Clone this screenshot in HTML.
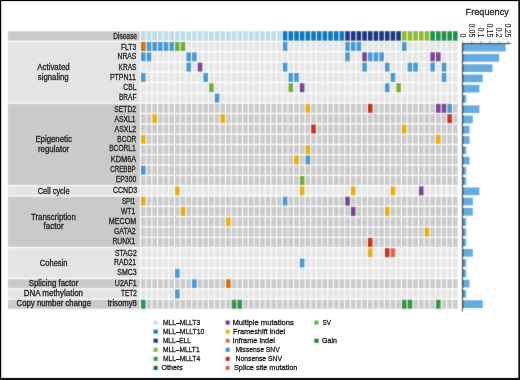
<!DOCTYPE html><html><head><meta charset="utf-8"><title>Oncoprint</title><style>html,body{margin:0;padding:0;background:#fff;}body{width:520px;height:380px;overflow:hidden;font-family:"Liberation Sans",sans-serif;}svg{display:block;will-change:transform;}</style></head><body><svg width="520" height="380" viewBox="0 0 520 380"><defs><filter id="soft" filterUnits="userSpaceOnUse" x="0" y="0" width="520" height="380" color-interpolation-filters="sRGB"><feConvolveMatrix order="3" kernelMatrix="1 2 1 2 16 2 1 2 1" divisor="28" edgeMode="duplicate"/></filter></defs><g filter="url(#soft)"><rect width="520" height="380" fill="#fff"/><rect x="8" y="31.2" width="131.8" height="9.5" fill="#cacaca"/><rect x="141" y="31.2" width="4.6" height="9.5" fill="#bedde9"/><rect x="146.67" y="31.2" width="4.6" height="9.5" fill="#bedde9"/><rect x="152.35" y="31.2" width="4.6" height="9.5" fill="#bedde9"/><rect x="158.02" y="31.2" width="4.6" height="9.5" fill="#bedde9"/><rect x="163.69" y="31.2" width="4.6" height="9.5" fill="#bedde9"/><rect x="169.37" y="31.2" width="4.6" height="9.5" fill="#bedde9"/><rect x="175.04" y="31.2" width="4.6" height="9.5" fill="#bedde9"/><rect x="180.71" y="31.2" width="4.6" height="9.5" fill="#bedde9"/><rect x="186.38" y="31.2" width="4.6" height="9.5" fill="#bedde9"/><rect x="192.06" y="31.2" width="4.6" height="9.5" fill="#bedde9"/><rect x="197.73" y="31.2" width="4.6" height="9.5" fill="#bedde9"/><rect x="203.4" y="31.2" width="4.6" height="9.5" fill="#bedde9"/><rect x="209.08" y="31.2" width="4.6" height="9.5" fill="#bedde9"/><rect x="214.75" y="31.2" width="4.6" height="9.5" fill="#bedde9"/><rect x="220.42" y="31.2" width="4.6" height="9.5" fill="#bedde9"/><rect x="226.09" y="31.2" width="4.6" height="9.5" fill="#bedde9"/><rect x="231.77" y="31.2" width="4.6" height="9.5" fill="#bedde9"/><rect x="237.44" y="31.2" width="4.6" height="9.5" fill="#bedde9"/><rect x="243.11" y="31.2" width="4.6" height="9.5" fill="#bedde9"/><rect x="248.79" y="31.2" width="4.6" height="9.5" fill="#bedde9"/><rect x="254.46" y="31.2" width="4.6" height="9.5" fill="#bedde9"/><rect x="260.13" y="31.2" width="4.6" height="9.5" fill="#bedde9"/><rect x="265.81" y="31.2" width="4.6" height="9.5" fill="#bedde9"/><rect x="271.48" y="31.2" width="4.6" height="9.5" fill="#bedde9"/><rect x="277.15" y="31.2" width="4.6" height="9.5" fill="#bedde9"/><rect x="282.82" y="31.2" width="4.6" height="9.5" fill="#0b78bc"/><rect x="288.5" y="31.2" width="4.6" height="9.5" fill="#0b78bc"/><rect x="294.17" y="31.2" width="4.6" height="9.5" fill="#0b78bc"/><rect x="299.84" y="31.2" width="4.6" height="9.5" fill="#0b78bc"/><rect x="305.52" y="31.2" width="4.6" height="9.5" fill="#0b78bc"/><rect x="311.19" y="31.2" width="4.6" height="9.5" fill="#0b78bc"/><rect x="316.86" y="31.2" width="4.6" height="9.5" fill="#0b78bc"/><rect x="322.54" y="31.2" width="4.6" height="9.5" fill="#0b78bc"/><rect x="328.21" y="31.2" width="4.6" height="9.5" fill="#0b78bc"/><rect x="333.88" y="31.2" width="4.6" height="9.5" fill="#0b78bc"/><rect x="339.56" y="31.2" width="4.6" height="9.5" fill="#0b78bc"/><rect x="345.23" y="31.2" width="4.6" height="9.5" fill="#1a3682"/><rect x="350.9" y="31.2" width="4.6" height="9.5" fill="#1a3682"/><rect x="356.57" y="31.2" width="4.6" height="9.5" fill="#1a3682"/><rect x="362.25" y="31.2" width="4.6" height="9.5" fill="#1a3682"/><rect x="367.92" y="31.2" width="4.6" height="9.5" fill="#1a3682"/><rect x="373.59" y="31.2" width="4.6" height="9.5" fill="#1a3682"/><rect x="379.27" y="31.2" width="4.6" height="9.5" fill="#1a3682"/><rect x="384.94" y="31.2" width="4.6" height="9.5" fill="#1a3682"/><rect x="390.61" y="31.2" width="4.6" height="9.5" fill="#1a3682"/><rect x="396.28" y="31.2" width="4.6" height="9.5" fill="#1a3682"/><rect x="401.96" y="31.2" width="4.6" height="9.5" fill="#8db833"/><rect x="407.63" y="31.2" width="4.6" height="9.5" fill="#8db833"/><rect x="413.3" y="31.2" width="4.6" height="9.5" fill="#8db833"/><rect x="418.98" y="31.2" width="4.6" height="9.5" fill="#8db833"/><rect x="424.65" y="31.2" width="4.6" height="9.5" fill="#8db833"/><rect x="430.32" y="31.2" width="4.6" height="9.5" fill="#1e8f4c"/><rect x="436" y="31.2" width="4.6" height="9.5" fill="#1e8f4c"/><rect x="441.67" y="31.2" width="4.6" height="9.5" fill="#1e8f4c"/><rect x="447.34" y="31.2" width="4.6" height="9.5" fill="#1e8f4c"/><rect x="453.01" y="31.2" width="4.6" height="9.5" fill="#1e8f4c"/><rect x="8" y="42" width="131.8" height="60.55" fill="#e4e4e4"/><rect x="8" y="103.86" width="131.8" height="81.17" fill="#cacaca"/><rect x="8" y="186.34" width="131.8" height="9" fill="#e4e4e4"/><rect x="8" y="196.65" width="131.8" height="50.24" fill="#cacaca"/><rect x="8" y="248.2" width="131.8" height="29.62" fill="#e4e4e4"/><rect x="8" y="279.13" width="131.8" height="9" fill="#cacaca"/><rect x="8" y="289.44" width="131.8" height="9" fill="#e4e4e4"/><rect x="8" y="299.75" width="131.8" height="9" fill="#cacaca"/><rect x="141" y="42" width="4.6" height="9" fill="#d2710f"/><rect x="146.67" y="42" width="4.6" height="9" fill="#4899d3"/><rect x="152.35" y="42" width="4.6" height="9" fill="#4899d3"/><rect x="158.02" y="42" width="4.6" height="9" fill="#4899d3"/><rect x="163.69" y="42" width="4.6" height="9" fill="#4899d3"/><rect x="169.37" y="42" width="4.6" height="9" fill="#4899d3"/><rect x="175.04" y="42" width="4.6" height="9" fill="#72ac38"/><rect x="180.71" y="42" width="4.6" height="9" fill="#72ac38"/><rect x="186.38" y="42" width="4.6" height="9" fill="#e6e6e6"/><rect x="192.06" y="42" width="4.6" height="9" fill="#e6e6e6"/><rect x="197.73" y="42" width="4.6" height="9" fill="#e6e6e6"/><rect x="203.4" y="42" width="4.6" height="9" fill="#e6e6e6"/><rect x="209.08" y="42" width="4.6" height="9" fill="#e6e6e6"/><rect x="214.75" y="42" width="4.6" height="9" fill="#e6e6e6"/><rect x="220.42" y="42" width="4.6" height="9" fill="#e6e6e6"/><rect x="226.09" y="42" width="4.6" height="9" fill="#e6e6e6"/><rect x="231.77" y="42" width="4.6" height="9" fill="#e6e6e6"/><rect x="237.44" y="42" width="4.6" height="9" fill="#e6e6e6"/><rect x="243.11" y="42" width="4.6" height="9" fill="#e6e6e6"/><rect x="248.79" y="42" width="4.6" height="9" fill="#e6e6e6"/><rect x="254.46" y="42" width="4.6" height="9" fill="#e6e6e6"/><rect x="260.13" y="42" width="4.6" height="9" fill="#e6e6e6"/><rect x="265.81" y="42" width="4.6" height="9" fill="#e6e6e6"/><rect x="271.48" y="42" width="4.6" height="9" fill="#e6e6e6"/><rect x="277.15" y="42" width="4.6" height="9" fill="#e6e6e6"/><rect x="282.82" y="42" width="4.6" height="9" fill="#4899d3"/><rect x="288.5" y="42" width="4.6" height="9" fill="#e6e6e6"/><rect x="294.17" y="42" width="4.6" height="9" fill="#e6e6e6"/><rect x="299.84" y="42" width="4.6" height="9" fill="#e6e6e6"/><rect x="305.52" y="42" width="4.6" height="9" fill="#e6e6e6"/><rect x="311.19" y="42" width="4.6" height="9" fill="#e6e6e6"/><rect x="316.86" y="42" width="4.6" height="9" fill="#e6e6e6"/><rect x="322.54" y="42" width="4.6" height="9" fill="#e6e6e6"/><rect x="328.21" y="42" width="4.6" height="9" fill="#e6e6e6"/><rect x="333.88" y="42" width="4.6" height="9" fill="#e6e6e6"/><rect x="339.56" y="42" width="4.6" height="9" fill="#e6e6e6"/><rect x="345.23" y="42" width="4.6" height="9" fill="#4899d3"/><rect x="350.9" y="42" width="4.6" height="9" fill="#4899d3"/><rect x="356.57" y="42" width="4.6" height="9" fill="#4899d3"/><rect x="362.25" y="42" width="4.6" height="9" fill="#e6e6e6"/><rect x="367.92" y="42" width="4.6" height="9" fill="#e6e6e6"/><rect x="373.59" y="42" width="4.6" height="9" fill="#e6e6e6"/><rect x="379.27" y="42" width="4.6" height="9" fill="#e6e6e6"/><rect x="384.94" y="42" width="4.6" height="9" fill="#e6e6e6"/><rect x="390.61" y="42" width="4.6" height="9" fill="#e6e6e6"/><rect x="396.28" y="42" width="4.6" height="9" fill="#e6e6e6"/><rect x="401.96" y="42" width="4.6" height="9" fill="#4899d3"/><rect x="407.63" y="42" width="4.6" height="9" fill="#e6e6e6"/><rect x="413.3" y="42" width="4.6" height="9" fill="#e6e6e6"/><rect x="418.98" y="42" width="4.6" height="9" fill="#e6e6e6"/><rect x="424.65" y="42" width="4.6" height="9" fill="#e6e6e6"/><rect x="430.32" y="42" width="4.6" height="9" fill="#e6e6e6"/><rect x="436" y="42" width="4.6" height="9" fill="#e6e6e6"/><rect x="441.67" y="42" width="4.6" height="9" fill="#e6e6e6"/><rect x="447.34" y="42" width="4.6" height="9" fill="#e6e6e6"/><rect x="453.01" y="42" width="4.6" height="9" fill="#e6e6e6"/><rect x="141" y="52.31" width="4.6" height="9" fill="#4899d3"/><rect x="146.67" y="52.31" width="4.6" height="9" fill="#4899d3"/><rect x="152.35" y="52.31" width="4.6" height="9" fill="#e6e6e6"/><rect x="158.02" y="52.31" width="4.6" height="9" fill="#e6e6e6"/><rect x="163.69" y="52.31" width="4.6" height="9" fill="#e6e6e6"/><rect x="169.37" y="52.31" width="4.6" height="9" fill="#e6e6e6"/><rect x="175.04" y="52.31" width="4.6" height="9" fill="#e6e6e6"/><rect x="180.71" y="52.31" width="4.6" height="9" fill="#e6e6e6"/><rect x="186.38" y="52.31" width="4.6" height="9" fill="#4899d3"/><rect x="192.06" y="52.31" width="4.6" height="9" fill="#4899d3"/><rect x="197.73" y="52.31" width="4.6" height="9" fill="#e6e6e6"/><rect x="203.4" y="52.31" width="4.6" height="9" fill="#e6e6e6"/><rect x="209.08" y="52.31" width="4.6" height="9" fill="#e6e6e6"/><rect x="214.75" y="52.31" width="4.6" height="9" fill="#e6e6e6"/><rect x="220.42" y="52.31" width="4.6" height="9" fill="#e6e6e6"/><rect x="226.09" y="52.31" width="4.6" height="9" fill="#e6e6e6"/><rect x="231.77" y="52.31" width="4.6" height="9" fill="#e6e6e6"/><rect x="237.44" y="52.31" width="4.6" height="9" fill="#e6e6e6"/><rect x="243.11" y="52.31" width="4.6" height="9" fill="#e6e6e6"/><rect x="248.79" y="52.31" width="4.6" height="9" fill="#e6e6e6"/><rect x="254.46" y="52.31" width="4.6" height="9" fill="#e6e6e6"/><rect x="260.13" y="52.31" width="4.6" height="9" fill="#e6e6e6"/><rect x="265.81" y="52.31" width="4.6" height="9" fill="#e6e6e6"/><rect x="271.48" y="52.31" width="4.6" height="9" fill="#e6e6e6"/><rect x="277.15" y="52.31" width="4.6" height="9" fill="#e6e6e6"/><rect x="282.82" y="52.31" width="4.6" height="9" fill="#e6e6e6"/><rect x="288.5" y="52.31" width="4.6" height="9" fill="#e6e6e6"/><rect x="294.17" y="52.31" width="4.6" height="9" fill="#e6e6e6"/><rect x="299.84" y="52.31" width="4.6" height="9" fill="#e6e6e6"/><rect x="305.52" y="52.31" width="4.6" height="9" fill="#e6e6e6"/><rect x="311.19" y="52.31" width="4.6" height="9" fill="#e6e6e6"/><rect x="316.86" y="52.31" width="4.6" height="9" fill="#e6e6e6"/><rect x="322.54" y="52.31" width="4.6" height="9" fill="#e6e6e6"/><rect x="328.21" y="52.31" width="4.6" height="9" fill="#e6e6e6"/><rect x="333.88" y="52.31" width="4.6" height="9" fill="#e6e6e6"/><rect x="339.56" y="52.31" width="4.6" height="9" fill="#e6e6e6"/><rect x="345.23" y="52.31" width="4.6" height="9" fill="#4899d3"/><rect x="350.9" y="52.31" width="4.6" height="9" fill="#e6e6e6"/><rect x="356.57" y="52.31" width="4.6" height="9" fill="#e6e6e6"/><rect x="362.25" y="52.31" width="4.6" height="9" fill="#7a4491"/><rect x="367.92" y="52.31" width="4.6" height="9" fill="#4899d3"/><rect x="373.59" y="52.31" width="4.6" height="9" fill="#4899d3"/><rect x="379.27" y="52.31" width="4.6" height="9" fill="#4899d3"/><rect x="384.94" y="52.31" width="4.6" height="9" fill="#e6e6e6"/><rect x="390.61" y="52.31" width="4.6" height="9" fill="#e6e6e6"/><rect x="396.28" y="52.31" width="4.6" height="9" fill="#e6e6e6"/><rect x="401.96" y="52.31" width="4.6" height="9" fill="#e6e6e6"/><rect x="407.63" y="52.31" width="4.6" height="9" fill="#e6e6e6"/><rect x="413.3" y="52.31" width="4.6" height="9" fill="#e6e6e6"/><rect x="418.98" y="52.31" width="4.6" height="9" fill="#e6e6e6"/><rect x="424.65" y="52.31" width="4.6" height="9" fill="#e6e6e6"/><rect x="430.32" y="52.31" width="4.6" height="9" fill="#7a4491"/><rect x="436" y="52.31" width="4.6" height="9" fill="#7a4491"/><rect x="441.67" y="52.31" width="4.6" height="9" fill="#e6e6e6"/><rect x="447.34" y="52.31" width="4.6" height="9" fill="#e6e6e6"/><rect x="453.01" y="52.31" width="4.6" height="9" fill="#e6e6e6"/><rect x="141" y="62.62" width="4.6" height="9" fill="#e6e6e6"/><rect x="146.67" y="62.62" width="4.6" height="9" fill="#e6e6e6"/><rect x="152.35" y="62.62" width="4.6" height="9" fill="#e6e6e6"/><rect x="158.02" y="62.62" width="4.6" height="9" fill="#e6e6e6"/><rect x="163.69" y="62.62" width="4.6" height="9" fill="#e6e6e6"/><rect x="169.37" y="62.62" width="4.6" height="9" fill="#e6e6e6"/><rect x="175.04" y="62.62" width="4.6" height="9" fill="#e6e6e6"/><rect x="180.71" y="62.62" width="4.6" height="9" fill="#e6e6e6"/><rect x="186.38" y="62.62" width="4.6" height="9" fill="#4899d3"/><rect x="192.06" y="62.62" width="4.6" height="9" fill="#e6e6e6"/><rect x="197.73" y="62.62" width="4.6" height="9" fill="#7a4491"/><rect x="203.4" y="62.62" width="4.6" height="9" fill="#e6e6e6"/><rect x="209.08" y="62.62" width="4.6" height="9" fill="#e6e6e6"/><rect x="214.75" y="62.62" width="4.6" height="9" fill="#e6e6e6"/><rect x="220.42" y="62.62" width="4.6" height="9" fill="#e6e6e6"/><rect x="226.09" y="62.62" width="4.6" height="9" fill="#e6e6e6"/><rect x="231.77" y="62.62" width="4.6" height="9" fill="#e6e6e6"/><rect x="237.44" y="62.62" width="4.6" height="9" fill="#e6e6e6"/><rect x="243.11" y="62.62" width="4.6" height="9" fill="#e6e6e6"/><rect x="248.79" y="62.62" width="4.6" height="9" fill="#e6e6e6"/><rect x="254.46" y="62.62" width="4.6" height="9" fill="#e6e6e6"/><rect x="260.13" y="62.62" width="4.6" height="9" fill="#e6e6e6"/><rect x="265.81" y="62.62" width="4.6" height="9" fill="#e6e6e6"/><rect x="271.48" y="62.62" width="4.6" height="9" fill="#e6e6e6"/><rect x="277.15" y="62.62" width="4.6" height="9" fill="#e6e6e6"/><rect x="282.82" y="62.62" width="4.6" height="9" fill="#4899d3"/><rect x="288.5" y="62.62" width="4.6" height="9" fill="#e6e6e6"/><rect x="294.17" y="62.62" width="4.6" height="9" fill="#e6e6e6"/><rect x="299.84" y="62.62" width="4.6" height="9" fill="#e6e6e6"/><rect x="305.52" y="62.62" width="4.6" height="9" fill="#e6e6e6"/><rect x="311.19" y="62.62" width="4.6" height="9" fill="#e6e6e6"/><rect x="316.86" y="62.62" width="4.6" height="9" fill="#e6e6e6"/><rect x="322.54" y="62.62" width="4.6" height="9" fill="#e6e6e6"/><rect x="328.21" y="62.62" width="4.6" height="9" fill="#e6e6e6"/><rect x="333.88" y="62.62" width="4.6" height="9" fill="#e6e6e6"/><rect x="339.56" y="62.62" width="4.6" height="9" fill="#e6e6e6"/><rect x="345.23" y="62.62" width="4.6" height="9" fill="#e6e6e6"/><rect x="350.9" y="62.62" width="4.6" height="9" fill="#e6e6e6"/><rect x="356.57" y="62.62" width="4.6" height="9" fill="#e6e6e6"/><rect x="362.25" y="62.62" width="4.6" height="9" fill="#4899d3"/><rect x="367.92" y="62.62" width="4.6" height="9" fill="#e6e6e6"/><rect x="373.59" y="62.62" width="4.6" height="9" fill="#e6e6e6"/><rect x="379.27" y="62.62" width="4.6" height="9" fill="#e6e6e6"/><rect x="384.94" y="62.62" width="4.6" height="9" fill="#4899d3"/><rect x="390.61" y="62.62" width="4.6" height="9" fill="#e6e6e6"/><rect x="396.28" y="62.62" width="4.6" height="9" fill="#e6e6e6"/><rect x="401.96" y="62.62" width="4.6" height="9" fill="#e6e6e6"/><rect x="407.63" y="62.62" width="4.6" height="9" fill="#4899d3"/><rect x="413.3" y="62.62" width="4.6" height="9" fill="#4899d3"/><rect x="418.98" y="62.62" width="4.6" height="9" fill="#e6e6e6"/><rect x="424.65" y="62.62" width="4.6" height="9" fill="#e6e6e6"/><rect x="430.32" y="62.62" width="4.6" height="9" fill="#4899d3"/><rect x="436" y="62.62" width="4.6" height="9" fill="#e6e6e6"/><rect x="441.67" y="62.62" width="4.6" height="9" fill="#4899d3"/><rect x="447.34" y="62.62" width="4.6" height="9" fill="#e6e6e6"/><rect x="453.01" y="62.62" width="4.6" height="9" fill="#e6e6e6"/><rect x="141" y="72.93" width="4.6" height="9" fill="#4899d3"/><rect x="146.67" y="72.93" width="4.6" height="9" fill="#e6e6e6"/><rect x="152.35" y="72.93" width="4.6" height="9" fill="#e6e6e6"/><rect x="158.02" y="72.93" width="4.6" height="9" fill="#e6e6e6"/><rect x="163.69" y="72.93" width="4.6" height="9" fill="#e6e6e6"/><rect x="169.37" y="72.93" width="4.6" height="9" fill="#e6e6e6"/><rect x="175.04" y="72.93" width="4.6" height="9" fill="#e6e6e6"/><rect x="180.71" y="72.93" width="4.6" height="9" fill="#e6e6e6"/><rect x="186.38" y="72.93" width="4.6" height="9" fill="#e6e6e6"/><rect x="192.06" y="72.93" width="4.6" height="9" fill="#e6e6e6"/><rect x="197.73" y="72.93" width="4.6" height="9" fill="#e6e6e6"/><rect x="203.4" y="72.93" width="4.6" height="9" fill="#4899d3"/><rect x="209.08" y="72.93" width="4.6" height="9" fill="#e6e6e6"/><rect x="214.75" y="72.93" width="4.6" height="9" fill="#e6e6e6"/><rect x="220.42" y="72.93" width="4.6" height="9" fill="#e6e6e6"/><rect x="226.09" y="72.93" width="4.6" height="9" fill="#e6e6e6"/><rect x="231.77" y="72.93" width="4.6" height="9" fill="#e6e6e6"/><rect x="237.44" y="72.93" width="4.6" height="9" fill="#e6e6e6"/><rect x="243.11" y="72.93" width="4.6" height="9" fill="#e6e6e6"/><rect x="248.79" y="72.93" width="4.6" height="9" fill="#e6e6e6"/><rect x="254.46" y="72.93" width="4.6" height="9" fill="#e6e6e6"/><rect x="260.13" y="72.93" width="4.6" height="9" fill="#e6e6e6"/><rect x="265.81" y="72.93" width="4.6" height="9" fill="#e6e6e6"/><rect x="271.48" y="72.93" width="4.6" height="9" fill="#e6e6e6"/><rect x="277.15" y="72.93" width="4.6" height="9" fill="#e6e6e6"/><rect x="282.82" y="72.93" width="4.6" height="9" fill="#e6e6e6"/><rect x="288.5" y="72.93" width="4.6" height="9" fill="#4899d3"/><rect x="294.17" y="72.93" width="4.6" height="9" fill="#4899d3"/><rect x="299.84" y="72.93" width="4.6" height="9" fill="#e6e6e6"/><rect x="305.52" y="72.93" width="4.6" height="9" fill="#e6e6e6"/><rect x="311.19" y="72.93" width="4.6" height="9" fill="#e6e6e6"/><rect x="316.86" y="72.93" width="4.6" height="9" fill="#e6e6e6"/><rect x="322.54" y="72.93" width="4.6" height="9" fill="#e6e6e6"/><rect x="328.21" y="72.93" width="4.6" height="9" fill="#e6e6e6"/><rect x="333.88" y="72.93" width="4.6" height="9" fill="#e6e6e6"/><rect x="339.56" y="72.93" width="4.6" height="9" fill="#e6e6e6"/><rect x="345.23" y="72.93" width="4.6" height="9" fill="#e6e6e6"/><rect x="350.9" y="72.93" width="4.6" height="9" fill="#e6e6e6"/><rect x="356.57" y="72.93" width="4.6" height="9" fill="#e6e6e6"/><rect x="362.25" y="72.93" width="4.6" height="9" fill="#e6e6e6"/><rect x="367.92" y="72.93" width="4.6" height="9" fill="#e6e6e6"/><rect x="373.59" y="72.93" width="4.6" height="9" fill="#e6e6e6"/><rect x="379.27" y="72.93" width="4.6" height="9" fill="#e6e6e6"/><rect x="384.94" y="72.93" width="4.6" height="9" fill="#e6e6e6"/><rect x="390.61" y="72.93" width="4.6" height="9" fill="#4899d3"/><rect x="396.28" y="72.93" width="4.6" height="9" fill="#e6e6e6"/><rect x="401.96" y="72.93" width="4.6" height="9" fill="#e6e6e6"/><rect x="407.63" y="72.93" width="4.6" height="9" fill="#e6e6e6"/><rect x="413.3" y="72.93" width="4.6" height="9" fill="#e6e6e6"/><rect x="418.98" y="72.93" width="4.6" height="9" fill="#e6e6e6"/><rect x="424.65" y="72.93" width="4.6" height="9" fill="#e6e6e6"/><rect x="430.32" y="72.93" width="4.6" height="9" fill="#e6e6e6"/><rect x="436" y="72.93" width="4.6" height="9" fill="#e6e6e6"/><rect x="441.67" y="72.93" width="4.6" height="9" fill="#4899d3"/><rect x="447.34" y="72.93" width="4.6" height="9" fill="#e6e6e6"/><rect x="453.01" y="72.93" width="4.6" height="9" fill="#e6e6e6"/><rect x="141" y="83.24" width="4.6" height="9" fill="#e6e6e6"/><rect x="146.67" y="83.24" width="4.6" height="9" fill="#e6e6e6"/><rect x="152.35" y="83.24" width="4.6" height="9" fill="#e6e6e6"/><rect x="158.02" y="83.24" width="4.6" height="9" fill="#e6e6e6"/><rect x="163.69" y="83.24" width="4.6" height="9" fill="#e6e6e6"/><rect x="169.37" y="83.24" width="4.6" height="9" fill="#e6e6e6"/><rect x="175.04" y="83.24" width="4.6" height="9" fill="#e6e6e6"/><rect x="180.71" y="83.24" width="4.6" height="9" fill="#e6e6e6"/><rect x="186.38" y="83.24" width="4.6" height="9" fill="#e6e6e6"/><rect x="192.06" y="83.24" width="4.6" height="9" fill="#e6e6e6"/><rect x="197.73" y="83.24" width="4.6" height="9" fill="#e6e6e6"/><rect x="203.4" y="83.24" width="4.6" height="9" fill="#e6e6e6"/><rect x="209.08" y="83.24" width="4.6" height="9" fill="#72ac38"/><rect x="214.75" y="83.24" width="4.6" height="9" fill="#e6e6e6"/><rect x="220.42" y="83.24" width="4.6" height="9" fill="#e6e6e6"/><rect x="226.09" y="83.24" width="4.6" height="9" fill="#e6e6e6"/><rect x="231.77" y="83.24" width="4.6" height="9" fill="#e6e6e6"/><rect x="237.44" y="83.24" width="4.6" height="9" fill="#e6e6e6"/><rect x="243.11" y="83.24" width="4.6" height="9" fill="#e6e6e6"/><rect x="248.79" y="83.24" width="4.6" height="9" fill="#e6e6e6"/><rect x="254.46" y="83.24" width="4.6" height="9" fill="#e6e6e6"/><rect x="260.13" y="83.24" width="4.6" height="9" fill="#e6e6e6"/><rect x="265.81" y="83.24" width="4.6" height="9" fill="#e6e6e6"/><rect x="271.48" y="83.24" width="4.6" height="9" fill="#e6e6e6"/><rect x="277.15" y="83.24" width="4.6" height="9" fill="#e6e6e6"/><rect x="282.82" y="83.24" width="4.6" height="9" fill="#e6e6e6"/><rect x="288.5" y="83.24" width="4.6" height="9" fill="#72ac38"/><rect x="294.17" y="83.24" width="4.6" height="9" fill="#e6e6e6"/><rect x="299.84" y="83.24" width="4.6" height="9" fill="#7a4491"/><rect x="305.52" y="83.24" width="4.6" height="9" fill="#e6e6e6"/><rect x="311.19" y="83.24" width="4.6" height="9" fill="#e6e6e6"/><rect x="316.86" y="83.24" width="4.6" height="9" fill="#e6e6e6"/><rect x="322.54" y="83.24" width="4.6" height="9" fill="#e6e6e6"/><rect x="328.21" y="83.24" width="4.6" height="9" fill="#e6e6e6"/><rect x="333.88" y="83.24" width="4.6" height="9" fill="#e6e6e6"/><rect x="339.56" y="83.24" width="4.6" height="9" fill="#e6e6e6"/><rect x="345.23" y="83.24" width="4.6" height="9" fill="#e6e6e6"/><rect x="350.9" y="83.24" width="4.6" height="9" fill="#e6e6e6"/><rect x="356.57" y="83.24" width="4.6" height="9" fill="#e6e6e6"/><rect x="362.25" y="83.24" width="4.6" height="9" fill="#e6e6e6"/><rect x="367.92" y="83.24" width="4.6" height="9" fill="#e6e6e6"/><rect x="373.59" y="83.24" width="4.6" height="9" fill="#e6e6e6"/><rect x="379.27" y="83.24" width="4.6" height="9" fill="#e6e6e6"/><rect x="384.94" y="83.24" width="4.6" height="9" fill="#4899d3"/><rect x="390.61" y="83.24" width="4.6" height="9" fill="#e6e6e6"/><rect x="396.28" y="83.24" width="4.6" height="9" fill="#72ac38"/><rect x="401.96" y="83.24" width="4.6" height="9" fill="#e6e6e6"/><rect x="407.63" y="83.24" width="4.6" height="9" fill="#e6e6e6"/><rect x="413.3" y="83.24" width="4.6" height="9" fill="#e6e6e6"/><rect x="418.98" y="83.24" width="4.6" height="9" fill="#e6e6e6"/><rect x="424.65" y="83.24" width="4.6" height="9" fill="#e6e6e6"/><rect x="430.32" y="83.24" width="4.6" height="9" fill="#e6e6e6"/><rect x="436" y="83.24" width="4.6" height="9" fill="#e6e6e6"/><rect x="441.67" y="83.24" width="4.6" height="9" fill="#e6e6e6"/><rect x="447.34" y="83.24" width="4.6" height="9" fill="#e6e6e6"/><rect x="453.01" y="83.24" width="4.6" height="9" fill="#e6e6e6"/><rect x="141" y="93.55" width="4.6" height="9" fill="#e6e6e6"/><rect x="146.67" y="93.55" width="4.6" height="9" fill="#e6e6e6"/><rect x="152.35" y="93.55" width="4.6" height="9" fill="#e6e6e6"/><rect x="158.02" y="93.55" width="4.6" height="9" fill="#e6e6e6"/><rect x="163.69" y="93.55" width="4.6" height="9" fill="#e6e6e6"/><rect x="169.37" y="93.55" width="4.6" height="9" fill="#e6e6e6"/><rect x="175.04" y="93.55" width="4.6" height="9" fill="#e6e6e6"/><rect x="180.71" y="93.55" width="4.6" height="9" fill="#e6e6e6"/><rect x="186.38" y="93.55" width="4.6" height="9" fill="#e6e6e6"/><rect x="192.06" y="93.55" width="4.6" height="9" fill="#e6e6e6"/><rect x="197.73" y="93.55" width="4.6" height="9" fill="#e6e6e6"/><rect x="203.4" y="93.55" width="4.6" height="9" fill="#e6e6e6"/><rect x="209.08" y="93.55" width="4.6" height="9" fill="#e6e6e6"/><rect x="214.75" y="93.55" width="4.6" height="9" fill="#4899d3"/><rect x="220.42" y="93.55" width="4.6" height="9" fill="#e6e6e6"/><rect x="226.09" y="93.55" width="4.6" height="9" fill="#e6e6e6"/><rect x="231.77" y="93.55" width="4.6" height="9" fill="#e6e6e6"/><rect x="237.44" y="93.55" width="4.6" height="9" fill="#e6e6e6"/><rect x="243.11" y="93.55" width="4.6" height="9" fill="#e6e6e6"/><rect x="248.79" y="93.55" width="4.6" height="9" fill="#e6e6e6"/><rect x="254.46" y="93.55" width="4.6" height="9" fill="#e6e6e6"/><rect x="260.13" y="93.55" width="4.6" height="9" fill="#e6e6e6"/><rect x="265.81" y="93.55" width="4.6" height="9" fill="#e6e6e6"/><rect x="271.48" y="93.55" width="4.6" height="9" fill="#e6e6e6"/><rect x="277.15" y="93.55" width="4.6" height="9" fill="#e6e6e6"/><rect x="282.82" y="93.55" width="4.6" height="9" fill="#e6e6e6"/><rect x="288.5" y="93.55" width="4.6" height="9" fill="#e6e6e6"/><rect x="294.17" y="93.55" width="4.6" height="9" fill="#e6e6e6"/><rect x="299.84" y="93.55" width="4.6" height="9" fill="#e6e6e6"/><rect x="305.52" y="93.55" width="4.6" height="9" fill="#e6e6e6"/><rect x="311.19" y="93.55" width="4.6" height="9" fill="#e6e6e6"/><rect x="316.86" y="93.55" width="4.6" height="9" fill="#e6e6e6"/><rect x="322.54" y="93.55" width="4.6" height="9" fill="#e6e6e6"/><rect x="328.21" y="93.55" width="4.6" height="9" fill="#e6e6e6"/><rect x="333.88" y="93.55" width="4.6" height="9" fill="#e6e6e6"/><rect x="339.56" y="93.55" width="4.6" height="9" fill="#e6e6e6"/><rect x="345.23" y="93.55" width="4.6" height="9" fill="#e6e6e6"/><rect x="350.9" y="93.55" width="4.6" height="9" fill="#e6e6e6"/><rect x="356.57" y="93.55" width="4.6" height="9" fill="#e6e6e6"/><rect x="362.25" y="93.55" width="4.6" height="9" fill="#e6e6e6"/><rect x="367.92" y="93.55" width="4.6" height="9" fill="#e6e6e6"/><rect x="373.59" y="93.55" width="4.6" height="9" fill="#e6e6e6"/><rect x="379.27" y="93.55" width="4.6" height="9" fill="#e6e6e6"/><rect x="384.94" y="93.55" width="4.6" height="9" fill="#e6e6e6"/><rect x="390.61" y="93.55" width="4.6" height="9" fill="#e6e6e6"/><rect x="396.28" y="93.55" width="4.6" height="9" fill="#e6e6e6"/><rect x="401.96" y="93.55" width="4.6" height="9" fill="#e6e6e6"/><rect x="407.63" y="93.55" width="4.6" height="9" fill="#e6e6e6"/><rect x="413.3" y="93.55" width="4.6" height="9" fill="#e6e6e6"/><rect x="418.98" y="93.55" width="4.6" height="9" fill="#e6e6e6"/><rect x="424.65" y="93.55" width="4.6" height="9" fill="#e6e6e6"/><rect x="430.32" y="93.55" width="4.6" height="9" fill="#e6e6e6"/><rect x="436" y="93.55" width="4.6" height="9" fill="#e6e6e6"/><rect x="441.67" y="93.55" width="4.6" height="9" fill="#e6e6e6"/><rect x="447.34" y="93.55" width="4.6" height="9" fill="#e6e6e6"/><rect x="453.01" y="93.55" width="4.6" height="9" fill="#e6e6e6"/><rect x="141" y="103.86" width="4.6" height="9" fill="#cbcbcb"/><rect x="146.67" y="103.86" width="4.6" height="9" fill="#cbcbcb"/><rect x="152.35" y="103.86" width="4.6" height="9" fill="#cbcbcb"/><rect x="158.02" y="103.86" width="4.6" height="9" fill="#cbcbcb"/><rect x="163.69" y="103.86" width="4.6" height="9" fill="#cbcbcb"/><rect x="169.37" y="103.86" width="4.6" height="9" fill="#cbcbcb"/><rect x="175.04" y="103.86" width="4.6" height="9" fill="#cbcbcb"/><rect x="180.71" y="103.86" width="4.6" height="9" fill="#cbcbcb"/><rect x="186.38" y="103.86" width="4.6" height="9" fill="#cbcbcb"/><rect x="192.06" y="103.86" width="4.6" height="9" fill="#cbcbcb"/><rect x="197.73" y="103.86" width="4.6" height="9" fill="#cbcbcb"/><rect x="203.4" y="103.86" width="4.6" height="9" fill="#cbcbcb"/><rect x="209.08" y="103.86" width="4.6" height="9" fill="#cbcbcb"/><rect x="214.75" y="103.86" width="4.6" height="9" fill="#cbcbcb"/><rect x="220.42" y="103.86" width="4.6" height="9" fill="#cbcbcb"/><rect x="226.09" y="103.86" width="4.6" height="9" fill="#cbcbcb"/><rect x="231.77" y="103.86" width="4.6" height="9" fill="#cbcbcb"/><rect x="237.44" y="103.86" width="4.6" height="9" fill="#cbcbcb"/><rect x="243.11" y="103.86" width="4.6" height="9" fill="#cbcbcb"/><rect x="248.79" y="103.86" width="4.6" height="9" fill="#cbcbcb"/><rect x="254.46" y="103.86" width="4.6" height="9" fill="#cbcbcb"/><rect x="260.13" y="103.86" width="4.6" height="9" fill="#cbcbcb"/><rect x="265.81" y="103.86" width="4.6" height="9" fill="#cbcbcb"/><rect x="271.48" y="103.86" width="4.6" height="9" fill="#cbcbcb"/><rect x="277.15" y="103.86" width="4.6" height="9" fill="#cbcbcb"/><rect x="282.82" y="103.86" width="4.6" height="9" fill="#cbcbcb"/><rect x="288.5" y="103.86" width="4.6" height="9" fill="#cbcbcb"/><rect x="294.17" y="103.86" width="4.6" height="9" fill="#cbcbcb"/><rect x="299.84" y="103.86" width="4.6" height="9" fill="#cbcbcb"/><rect x="305.52" y="103.86" width="4.6" height="9" fill="#e9ad14"/><rect x="311.19" y="103.86" width="4.6" height="9" fill="#cbcbcb"/><rect x="316.86" y="103.86" width="4.6" height="9" fill="#cbcbcb"/><rect x="322.54" y="103.86" width="4.6" height="9" fill="#cbcbcb"/><rect x="328.21" y="103.86" width="4.6" height="9" fill="#cbcbcb"/><rect x="333.88" y="103.86" width="4.6" height="9" fill="#cbcbcb"/><rect x="339.56" y="103.86" width="4.6" height="9" fill="#cbcbcb"/><rect x="345.23" y="103.86" width="4.6" height="9" fill="#cbcbcb"/><rect x="350.9" y="103.86" width="4.6" height="9" fill="#cbcbcb"/><rect x="356.57" y="103.86" width="4.6" height="9" fill="#cbcbcb"/><rect x="362.25" y="103.86" width="4.6" height="9" fill="#cbcbcb"/><rect x="367.92" y="103.86" width="4.6" height="9" fill="#c5321f"/><rect x="373.59" y="103.86" width="4.6" height="9" fill="#cbcbcb"/><rect x="379.27" y="103.86" width="4.6" height="9" fill="#cbcbcb"/><rect x="384.94" y="103.86" width="4.6" height="9" fill="#cbcbcb"/><rect x="390.61" y="103.86" width="4.6" height="9" fill="#cbcbcb"/><rect x="396.28" y="103.86" width="4.6" height="9" fill="#cbcbcb"/><rect x="401.96" y="103.86" width="4.6" height="9" fill="#cbcbcb"/><rect x="407.63" y="103.86" width="4.6" height="9" fill="#cbcbcb"/><rect x="413.3" y="103.86" width="4.6" height="9" fill="#cbcbcb"/><rect x="418.98" y="103.86" width="4.6" height="9" fill="#cbcbcb"/><rect x="424.65" y="103.86" width="4.6" height="9" fill="#cbcbcb"/><rect x="430.32" y="103.86" width="4.6" height="9" fill="#cbcbcb"/><rect x="436" y="103.86" width="4.6" height="9" fill="#7a4491"/><rect x="441.67" y="103.86" width="4.6" height="9" fill="#7a4491"/><rect x="447.34" y="103.86" width="4.6" height="9" fill="#4899d3"/><rect x="453.01" y="103.86" width="4.6" height="9" fill="#cbcbcb"/><rect x="141" y="114.17" width="4.6" height="9" fill="#cbcbcb"/><rect x="146.67" y="114.17" width="4.6" height="9" fill="#cbcbcb"/><rect x="152.35" y="114.17" width="4.6" height="9" fill="#e9ad14"/><rect x="158.02" y="114.17" width="4.6" height="9" fill="#cbcbcb"/><rect x="163.69" y="114.17" width="4.6" height="9" fill="#cbcbcb"/><rect x="169.37" y="114.17" width="4.6" height="9" fill="#cbcbcb"/><rect x="175.04" y="114.17" width="4.6" height="9" fill="#cbcbcb"/><rect x="180.71" y="114.17" width="4.6" height="9" fill="#cbcbcb"/><rect x="186.38" y="114.17" width="4.6" height="9" fill="#cbcbcb"/><rect x="192.06" y="114.17" width="4.6" height="9" fill="#cbcbcb"/><rect x="197.73" y="114.17" width="4.6" height="9" fill="#cbcbcb"/><rect x="203.4" y="114.17" width="4.6" height="9" fill="#cbcbcb"/><rect x="209.08" y="114.17" width="4.6" height="9" fill="#cbcbcb"/><rect x="214.75" y="114.17" width="4.6" height="9" fill="#cbcbcb"/><rect x="220.42" y="114.17" width="4.6" height="9" fill="#e9ad14"/><rect x="226.09" y="114.17" width="4.6" height="9" fill="#cbcbcb"/><rect x="231.77" y="114.17" width="4.6" height="9" fill="#cbcbcb"/><rect x="237.44" y="114.17" width="4.6" height="9" fill="#cbcbcb"/><rect x="243.11" y="114.17" width="4.6" height="9" fill="#cbcbcb"/><rect x="248.79" y="114.17" width="4.6" height="9" fill="#cbcbcb"/><rect x="254.46" y="114.17" width="4.6" height="9" fill="#cbcbcb"/><rect x="260.13" y="114.17" width="4.6" height="9" fill="#cbcbcb"/><rect x="265.81" y="114.17" width="4.6" height="9" fill="#cbcbcb"/><rect x="271.48" y="114.17" width="4.6" height="9" fill="#cbcbcb"/><rect x="277.15" y="114.17" width="4.6" height="9" fill="#cbcbcb"/><rect x="282.82" y="114.17" width="4.6" height="9" fill="#cbcbcb"/><rect x="288.5" y="114.17" width="4.6" height="9" fill="#cbcbcb"/><rect x="294.17" y="114.17" width="4.6" height="9" fill="#cbcbcb"/><rect x="299.84" y="114.17" width="4.6" height="9" fill="#cbcbcb"/><rect x="305.52" y="114.17" width="4.6" height="9" fill="#cbcbcb"/><rect x="311.19" y="114.17" width="4.6" height="9" fill="#cbcbcb"/><rect x="316.86" y="114.17" width="4.6" height="9" fill="#cbcbcb"/><rect x="322.54" y="114.17" width="4.6" height="9" fill="#cbcbcb"/><rect x="328.21" y="114.17" width="4.6" height="9" fill="#cbcbcb"/><rect x="333.88" y="114.17" width="4.6" height="9" fill="#cbcbcb"/><rect x="339.56" y="114.17" width="4.6" height="9" fill="#cbcbcb"/><rect x="345.23" y="114.17" width="4.6" height="9" fill="#cbcbcb"/><rect x="350.9" y="114.17" width="4.6" height="9" fill="#cbcbcb"/><rect x="356.57" y="114.17" width="4.6" height="9" fill="#cbcbcb"/><rect x="362.25" y="114.17" width="4.6" height="9" fill="#cbcbcb"/><rect x="367.92" y="114.17" width="4.6" height="9" fill="#cbcbcb"/><rect x="373.59" y="114.17" width="4.6" height="9" fill="#cbcbcb"/><rect x="379.27" y="114.17" width="4.6" height="9" fill="#cbcbcb"/><rect x="384.94" y="114.17" width="4.6" height="9" fill="#cbcbcb"/><rect x="390.61" y="114.17" width="4.6" height="9" fill="#cbcbcb"/><rect x="396.28" y="114.17" width="4.6" height="9" fill="#cbcbcb"/><rect x="401.96" y="114.17" width="4.6" height="9" fill="#cbcbcb"/><rect x="407.63" y="114.17" width="4.6" height="9" fill="#cbcbcb"/><rect x="413.3" y="114.17" width="4.6" height="9" fill="#cbcbcb"/><rect x="418.98" y="114.17" width="4.6" height="9" fill="#cbcbcb"/><rect x="424.65" y="114.17" width="4.6" height="9" fill="#cbcbcb"/><rect x="430.32" y="114.17" width="4.6" height="9" fill="#cbcbcb"/><rect x="436" y="114.17" width="4.6" height="9" fill="#cbcbcb"/><rect x="441.67" y="114.17" width="4.6" height="9" fill="#cbcbcb"/><rect x="447.34" y="114.17" width="4.6" height="9" fill="#c5321f"/><rect x="453.01" y="114.17" width="4.6" height="9" fill="#cbcbcb"/><rect x="141" y="124.48" width="4.6" height="9" fill="#cbcbcb"/><rect x="146.67" y="124.48" width="4.6" height="9" fill="#cbcbcb"/><rect x="152.35" y="124.48" width="4.6" height="9" fill="#cbcbcb"/><rect x="158.02" y="124.48" width="4.6" height="9" fill="#cbcbcb"/><rect x="163.69" y="124.48" width="4.6" height="9" fill="#cbcbcb"/><rect x="169.37" y="124.48" width="4.6" height="9" fill="#cbcbcb"/><rect x="175.04" y="124.48" width="4.6" height="9" fill="#cbcbcb"/><rect x="180.71" y="124.48" width="4.6" height="9" fill="#cbcbcb"/><rect x="186.38" y="124.48" width="4.6" height="9" fill="#cbcbcb"/><rect x="192.06" y="124.48" width="4.6" height="9" fill="#cbcbcb"/><rect x="197.73" y="124.48" width="4.6" height="9" fill="#cbcbcb"/><rect x="203.4" y="124.48" width="4.6" height="9" fill="#cbcbcb"/><rect x="209.08" y="124.48" width="4.6" height="9" fill="#cbcbcb"/><rect x="214.75" y="124.48" width="4.6" height="9" fill="#cbcbcb"/><rect x="220.42" y="124.48" width="4.6" height="9" fill="#cbcbcb"/><rect x="226.09" y="124.48" width="4.6" height="9" fill="#cbcbcb"/><rect x="231.77" y="124.48" width="4.6" height="9" fill="#cbcbcb"/><rect x="237.44" y="124.48" width="4.6" height="9" fill="#cbcbcb"/><rect x="243.11" y="124.48" width="4.6" height="9" fill="#cbcbcb"/><rect x="248.79" y="124.48" width="4.6" height="9" fill="#cbcbcb"/><rect x="254.46" y="124.48" width="4.6" height="9" fill="#cbcbcb"/><rect x="260.13" y="124.48" width="4.6" height="9" fill="#cbcbcb"/><rect x="265.81" y="124.48" width="4.6" height="9" fill="#cbcbcb"/><rect x="271.48" y="124.48" width="4.6" height="9" fill="#cbcbcb"/><rect x="277.15" y="124.48" width="4.6" height="9" fill="#cbcbcb"/><rect x="282.82" y="124.48" width="4.6" height="9" fill="#cbcbcb"/><rect x="288.5" y="124.48" width="4.6" height="9" fill="#cbcbcb"/><rect x="294.17" y="124.48" width="4.6" height="9" fill="#cbcbcb"/><rect x="299.84" y="124.48" width="4.6" height="9" fill="#cbcbcb"/><rect x="305.52" y="124.48" width="4.6" height="9" fill="#cbcbcb"/><rect x="311.19" y="124.48" width="4.6" height="9" fill="#c5321f"/><rect x="316.86" y="124.48" width="4.6" height="9" fill="#cbcbcb"/><rect x="322.54" y="124.48" width="4.6" height="9" fill="#cbcbcb"/><rect x="328.21" y="124.48" width="4.6" height="9" fill="#cbcbcb"/><rect x="333.88" y="124.48" width="4.6" height="9" fill="#cbcbcb"/><rect x="339.56" y="124.48" width="4.6" height="9" fill="#cbcbcb"/><rect x="345.23" y="124.48" width="4.6" height="9" fill="#cbcbcb"/><rect x="350.9" y="124.48" width="4.6" height="9" fill="#cbcbcb"/><rect x="356.57" y="124.48" width="4.6" height="9" fill="#cbcbcb"/><rect x="362.25" y="124.48" width="4.6" height="9" fill="#cbcbcb"/><rect x="367.92" y="124.48" width="4.6" height="9" fill="#cbcbcb"/><rect x="373.59" y="124.48" width="4.6" height="9" fill="#cbcbcb"/><rect x="379.27" y="124.48" width="4.6" height="9" fill="#cbcbcb"/><rect x="384.94" y="124.48" width="4.6" height="9" fill="#cbcbcb"/><rect x="390.61" y="124.48" width="4.6" height="9" fill="#cbcbcb"/><rect x="396.28" y="124.48" width="4.6" height="9" fill="#cbcbcb"/><rect x="401.96" y="124.48" width="4.6" height="9" fill="#e9ad14"/><rect x="407.63" y="124.48" width="4.6" height="9" fill="#cbcbcb"/><rect x="413.3" y="124.48" width="4.6" height="9" fill="#cbcbcb"/><rect x="418.98" y="124.48" width="4.6" height="9" fill="#cbcbcb"/><rect x="424.65" y="124.48" width="4.6" height="9" fill="#cbcbcb"/><rect x="430.32" y="124.48" width="4.6" height="9" fill="#cbcbcb"/><rect x="436" y="124.48" width="4.6" height="9" fill="#cbcbcb"/><rect x="441.67" y="124.48" width="4.6" height="9" fill="#cbcbcb"/><rect x="447.34" y="124.48" width="4.6" height="9" fill="#cbcbcb"/><rect x="453.01" y="124.48" width="4.6" height="9" fill="#cbcbcb"/><rect x="141" y="134.79" width="4.6" height="9" fill="#e9ad14"/><rect x="146.67" y="134.79" width="4.6" height="9" fill="#cbcbcb"/><rect x="152.35" y="134.79" width="4.6" height="9" fill="#cbcbcb"/><rect x="158.02" y="134.79" width="4.6" height="9" fill="#cbcbcb"/><rect x="163.69" y="134.79" width="4.6" height="9" fill="#cbcbcb"/><rect x="169.37" y="134.79" width="4.6" height="9" fill="#cbcbcb"/><rect x="175.04" y="134.79" width="4.6" height="9" fill="#cbcbcb"/><rect x="180.71" y="134.79" width="4.6" height="9" fill="#cbcbcb"/><rect x="186.38" y="134.79" width="4.6" height="9" fill="#cbcbcb"/><rect x="192.06" y="134.79" width="4.6" height="9" fill="#cbcbcb"/><rect x="197.73" y="134.79" width="4.6" height="9" fill="#cbcbcb"/><rect x="203.4" y="134.79" width="4.6" height="9" fill="#cbcbcb"/><rect x="209.08" y="134.79" width="4.6" height="9" fill="#cbcbcb"/><rect x="214.75" y="134.79" width="4.6" height="9" fill="#cbcbcb"/><rect x="220.42" y="134.79" width="4.6" height="9" fill="#cbcbcb"/><rect x="226.09" y="134.79" width="4.6" height="9" fill="#cbcbcb"/><rect x="231.77" y="134.79" width="4.6" height="9" fill="#cbcbcb"/><rect x="237.44" y="134.79" width="4.6" height="9" fill="#cbcbcb"/><rect x="243.11" y="134.79" width="4.6" height="9" fill="#cbcbcb"/><rect x="248.79" y="134.79" width="4.6" height="9" fill="#cbcbcb"/><rect x="254.46" y="134.79" width="4.6" height="9" fill="#cbcbcb"/><rect x="260.13" y="134.79" width="4.6" height="9" fill="#cbcbcb"/><rect x="265.81" y="134.79" width="4.6" height="9" fill="#cbcbcb"/><rect x="271.48" y="134.79" width="4.6" height="9" fill="#cbcbcb"/><rect x="277.15" y="134.79" width="4.6" height="9" fill="#cbcbcb"/><rect x="282.82" y="134.79" width="4.6" height="9" fill="#cbcbcb"/><rect x="288.5" y="134.79" width="4.6" height="9" fill="#cbcbcb"/><rect x="294.17" y="134.79" width="4.6" height="9" fill="#cbcbcb"/><rect x="299.84" y="134.79" width="4.6" height="9" fill="#cbcbcb"/><rect x="305.52" y="134.79" width="4.6" height="9" fill="#cbcbcb"/><rect x="311.19" y="134.79" width="4.6" height="9" fill="#cbcbcb"/><rect x="316.86" y="134.79" width="4.6" height="9" fill="#cbcbcb"/><rect x="322.54" y="134.79" width="4.6" height="9" fill="#cbcbcb"/><rect x="328.21" y="134.79" width="4.6" height="9" fill="#cbcbcb"/><rect x="333.88" y="134.79" width="4.6" height="9" fill="#cbcbcb"/><rect x="339.56" y="134.79" width="4.6" height="9" fill="#cbcbcb"/><rect x="345.23" y="134.79" width="4.6" height="9" fill="#cbcbcb"/><rect x="350.9" y="134.79" width="4.6" height="9" fill="#cbcbcb"/><rect x="356.57" y="134.79" width="4.6" height="9" fill="#cbcbcb"/><rect x="362.25" y="134.79" width="4.6" height="9" fill="#cbcbcb"/><rect x="367.92" y="134.79" width="4.6" height="9" fill="#cbcbcb"/><rect x="373.59" y="134.79" width="4.6" height="9" fill="#cbcbcb"/><rect x="379.27" y="134.79" width="4.6" height="9" fill="#cbcbcb"/><rect x="384.94" y="134.79" width="4.6" height="9" fill="#cbcbcb"/><rect x="390.61" y="134.79" width="4.6" height="9" fill="#cbcbcb"/><rect x="396.28" y="134.79" width="4.6" height="9" fill="#cbcbcb"/><rect x="401.96" y="134.79" width="4.6" height="9" fill="#cbcbcb"/><rect x="407.63" y="134.79" width="4.6" height="9" fill="#cbcbcb"/><rect x="413.3" y="134.79" width="4.6" height="9" fill="#cbcbcb"/><rect x="418.98" y="134.79" width="4.6" height="9" fill="#cbcbcb"/><rect x="424.65" y="134.79" width="4.6" height="9" fill="#cbcbcb"/><rect x="430.32" y="134.79" width="4.6" height="9" fill="#cbcbcb"/><rect x="436" y="134.79" width="4.6" height="9" fill="#e9ad14"/><rect x="441.67" y="134.79" width="4.6" height="9" fill="#cbcbcb"/><rect x="447.34" y="134.79" width="4.6" height="9" fill="#cbcbcb"/><rect x="453.01" y="134.79" width="4.6" height="9" fill="#cbcbcb"/><rect x="141" y="145.1" width="4.6" height="9" fill="#cbcbcb"/><rect x="146.67" y="145.1" width="4.6" height="9" fill="#cbcbcb"/><rect x="152.35" y="145.1" width="4.6" height="9" fill="#cbcbcb"/><rect x="158.02" y="145.1" width="4.6" height="9" fill="#cbcbcb"/><rect x="163.69" y="145.1" width="4.6" height="9" fill="#cbcbcb"/><rect x="169.37" y="145.1" width="4.6" height="9" fill="#cbcbcb"/><rect x="175.04" y="145.1" width="4.6" height="9" fill="#cbcbcb"/><rect x="180.71" y="145.1" width="4.6" height="9" fill="#cbcbcb"/><rect x="186.38" y="145.1" width="4.6" height="9" fill="#cbcbcb"/><rect x="192.06" y="145.1" width="4.6" height="9" fill="#cbcbcb"/><rect x="197.73" y="145.1" width="4.6" height="9" fill="#cbcbcb"/><rect x="203.4" y="145.1" width="4.6" height="9" fill="#cbcbcb"/><rect x="209.08" y="145.1" width="4.6" height="9" fill="#cbcbcb"/><rect x="214.75" y="145.1" width="4.6" height="9" fill="#cbcbcb"/><rect x="220.42" y="145.1" width="4.6" height="9" fill="#cbcbcb"/><rect x="226.09" y="145.1" width="4.6" height="9" fill="#cbcbcb"/><rect x="231.77" y="145.1" width="4.6" height="9" fill="#cbcbcb"/><rect x="237.44" y="145.1" width="4.6" height="9" fill="#cbcbcb"/><rect x="243.11" y="145.1" width="4.6" height="9" fill="#cbcbcb"/><rect x="248.79" y="145.1" width="4.6" height="9" fill="#cbcbcb"/><rect x="254.46" y="145.1" width="4.6" height="9" fill="#cbcbcb"/><rect x="260.13" y="145.1" width="4.6" height="9" fill="#cbcbcb"/><rect x="265.81" y="145.1" width="4.6" height="9" fill="#cbcbcb"/><rect x="271.48" y="145.1" width="4.6" height="9" fill="#cbcbcb"/><rect x="277.15" y="145.1" width="4.6" height="9" fill="#cbcbcb"/><rect x="282.82" y="145.1" width="4.6" height="9" fill="#cbcbcb"/><rect x="288.5" y="145.1" width="4.6" height="9" fill="#cbcbcb"/><rect x="294.17" y="145.1" width="4.6" height="9" fill="#cbcbcb"/><rect x="299.84" y="145.1" width="4.6" height="9" fill="#cbcbcb"/><rect x="305.52" y="145.1" width="4.6" height="9" fill="#e9ad14"/><rect x="311.19" y="145.1" width="4.6" height="9" fill="#cbcbcb"/><rect x="316.86" y="145.1" width="4.6" height="9" fill="#cbcbcb"/><rect x="322.54" y="145.1" width="4.6" height="9" fill="#cbcbcb"/><rect x="328.21" y="145.1" width="4.6" height="9" fill="#cbcbcb"/><rect x="333.88" y="145.1" width="4.6" height="9" fill="#cbcbcb"/><rect x="339.56" y="145.1" width="4.6" height="9" fill="#cbcbcb"/><rect x="345.23" y="145.1" width="4.6" height="9" fill="#cbcbcb"/><rect x="350.9" y="145.1" width="4.6" height="9" fill="#cbcbcb"/><rect x="356.57" y="145.1" width="4.6" height="9" fill="#cbcbcb"/><rect x="362.25" y="145.1" width="4.6" height="9" fill="#cbcbcb"/><rect x="367.92" y="145.1" width="4.6" height="9" fill="#cbcbcb"/><rect x="373.59" y="145.1" width="4.6" height="9" fill="#cbcbcb"/><rect x="379.27" y="145.1" width="4.6" height="9" fill="#cbcbcb"/><rect x="384.94" y="145.1" width="4.6" height="9" fill="#cbcbcb"/><rect x="390.61" y="145.1" width="4.6" height="9" fill="#cbcbcb"/><rect x="396.28" y="145.1" width="4.6" height="9" fill="#cbcbcb"/><rect x="401.96" y="145.1" width="4.6" height="9" fill="#cbcbcb"/><rect x="407.63" y="145.1" width="4.6" height="9" fill="#cbcbcb"/><rect x="413.3" y="145.1" width="4.6" height="9" fill="#cbcbcb"/><rect x="418.98" y="145.1" width="4.6" height="9" fill="#cbcbcb"/><rect x="424.65" y="145.1" width="4.6" height="9" fill="#cbcbcb"/><rect x="430.32" y="145.1" width="4.6" height="9" fill="#cbcbcb"/><rect x="436" y="145.1" width="4.6" height="9" fill="#cbcbcb"/><rect x="441.67" y="145.1" width="4.6" height="9" fill="#cbcbcb"/><rect x="447.34" y="145.1" width="4.6" height="9" fill="#cbcbcb"/><rect x="453.01" y="145.1" width="4.6" height="9" fill="#cbcbcb"/><rect x="141" y="155.41" width="4.6" height="9" fill="#cbcbcb"/><rect x="146.67" y="155.41" width="4.6" height="9" fill="#cbcbcb"/><rect x="152.35" y="155.41" width="4.6" height="9" fill="#cbcbcb"/><rect x="158.02" y="155.41" width="4.6" height="9" fill="#cbcbcb"/><rect x="163.69" y="155.41" width="4.6" height="9" fill="#cbcbcb"/><rect x="169.37" y="155.41" width="4.6" height="9" fill="#cbcbcb"/><rect x="175.04" y="155.41" width="4.6" height="9" fill="#cbcbcb"/><rect x="180.71" y="155.41" width="4.6" height="9" fill="#cbcbcb"/><rect x="186.38" y="155.41" width="4.6" height="9" fill="#cbcbcb"/><rect x="192.06" y="155.41" width="4.6" height="9" fill="#cbcbcb"/><rect x="197.73" y="155.41" width="4.6" height="9" fill="#cbcbcb"/><rect x="203.4" y="155.41" width="4.6" height="9" fill="#cbcbcb"/><rect x="209.08" y="155.41" width="4.6" height="9" fill="#cbcbcb"/><rect x="214.75" y="155.41" width="4.6" height="9" fill="#cbcbcb"/><rect x="220.42" y="155.41" width="4.6" height="9" fill="#cbcbcb"/><rect x="226.09" y="155.41" width="4.6" height="9" fill="#cbcbcb"/><rect x="231.77" y="155.41" width="4.6" height="9" fill="#cbcbcb"/><rect x="237.44" y="155.41" width="4.6" height="9" fill="#cbcbcb"/><rect x="243.11" y="155.41" width="4.6" height="9" fill="#cbcbcb"/><rect x="248.79" y="155.41" width="4.6" height="9" fill="#cbcbcb"/><rect x="254.46" y="155.41" width="4.6" height="9" fill="#cbcbcb"/><rect x="260.13" y="155.41" width="4.6" height="9" fill="#cbcbcb"/><rect x="265.81" y="155.41" width="4.6" height="9" fill="#cbcbcb"/><rect x="271.48" y="155.41" width="4.6" height="9" fill="#cbcbcb"/><rect x="277.15" y="155.41" width="4.6" height="9" fill="#cbcbcb"/><rect x="282.82" y="155.41" width="4.6" height="9" fill="#cbcbcb"/><rect x="288.5" y="155.41" width="4.6" height="9" fill="#cbcbcb"/><rect x="294.17" y="155.41" width="4.6" height="9" fill="#e9ad14"/><rect x="299.84" y="155.41" width="4.6" height="9" fill="#cbcbcb"/><rect x="305.52" y="155.41" width="4.6" height="9" fill="#4899d3"/><rect x="311.19" y="155.41" width="4.6" height="9" fill="#cbcbcb"/><rect x="316.86" y="155.41" width="4.6" height="9" fill="#cbcbcb"/><rect x="322.54" y="155.41" width="4.6" height="9" fill="#cbcbcb"/><rect x="328.21" y="155.41" width="4.6" height="9" fill="#cbcbcb"/><rect x="333.88" y="155.41" width="4.6" height="9" fill="#cbcbcb"/><rect x="339.56" y="155.41" width="4.6" height="9" fill="#cbcbcb"/><rect x="345.23" y="155.41" width="4.6" height="9" fill="#cbcbcb"/><rect x="350.9" y="155.41" width="4.6" height="9" fill="#cbcbcb"/><rect x="356.57" y="155.41" width="4.6" height="9" fill="#cbcbcb"/><rect x="362.25" y="155.41" width="4.6" height="9" fill="#cbcbcb"/><rect x="367.92" y="155.41" width="4.6" height="9" fill="#cbcbcb"/><rect x="373.59" y="155.41" width="4.6" height="9" fill="#cbcbcb"/><rect x="379.27" y="155.41" width="4.6" height="9" fill="#cbcbcb"/><rect x="384.94" y="155.41" width="4.6" height="9" fill="#cbcbcb"/><rect x="390.61" y="155.41" width="4.6" height="9" fill="#cbcbcb"/><rect x="396.28" y="155.41" width="4.6" height="9" fill="#cbcbcb"/><rect x="401.96" y="155.41" width="4.6" height="9" fill="#cbcbcb"/><rect x="407.63" y="155.41" width="4.6" height="9" fill="#cbcbcb"/><rect x="413.3" y="155.41" width="4.6" height="9" fill="#cbcbcb"/><rect x="418.98" y="155.41" width="4.6" height="9" fill="#cbcbcb"/><rect x="424.65" y="155.41" width="4.6" height="9" fill="#cbcbcb"/><rect x="430.32" y="155.41" width="4.6" height="9" fill="#cbcbcb"/><rect x="436" y="155.41" width="4.6" height="9" fill="#cbcbcb"/><rect x="441.67" y="155.41" width="4.6" height="9" fill="#cbcbcb"/><rect x="447.34" y="155.41" width="4.6" height="9" fill="#cbcbcb"/><rect x="453.01" y="155.41" width="4.6" height="9" fill="#cbcbcb"/><rect x="141" y="165.72" width="4.6" height="9" fill="#4899d3"/><rect x="146.67" y="165.72" width="4.6" height="9" fill="#cbcbcb"/><rect x="152.35" y="165.72" width="4.6" height="9" fill="#cbcbcb"/><rect x="158.02" y="165.72" width="4.6" height="9" fill="#cbcbcb"/><rect x="163.69" y="165.72" width="4.6" height="9" fill="#cbcbcb"/><rect x="169.37" y="165.72" width="4.6" height="9" fill="#cbcbcb"/><rect x="175.04" y="165.72" width="4.6" height="9" fill="#cbcbcb"/><rect x="180.71" y="165.72" width="4.6" height="9" fill="#cbcbcb"/><rect x="186.38" y="165.72" width="4.6" height="9" fill="#cbcbcb"/><rect x="192.06" y="165.72" width="4.6" height="9" fill="#cbcbcb"/><rect x="197.73" y="165.72" width="4.6" height="9" fill="#cbcbcb"/><rect x="203.4" y="165.72" width="4.6" height="9" fill="#cbcbcb"/><rect x="209.08" y="165.72" width="4.6" height="9" fill="#cbcbcb"/><rect x="214.75" y="165.72" width="4.6" height="9" fill="#cbcbcb"/><rect x="220.42" y="165.72" width="4.6" height="9" fill="#cbcbcb"/><rect x="226.09" y="165.72" width="4.6" height="9" fill="#cbcbcb"/><rect x="231.77" y="165.72" width="4.6" height="9" fill="#cbcbcb"/><rect x="237.44" y="165.72" width="4.6" height="9" fill="#cbcbcb"/><rect x="243.11" y="165.72" width="4.6" height="9" fill="#cbcbcb"/><rect x="248.79" y="165.72" width="4.6" height="9" fill="#cbcbcb"/><rect x="254.46" y="165.72" width="4.6" height="9" fill="#cbcbcb"/><rect x="260.13" y="165.72" width="4.6" height="9" fill="#cbcbcb"/><rect x="265.81" y="165.72" width="4.6" height="9" fill="#cbcbcb"/><rect x="271.48" y="165.72" width="4.6" height="9" fill="#cbcbcb"/><rect x="277.15" y="165.72" width="4.6" height="9" fill="#cbcbcb"/><rect x="282.82" y="165.72" width="4.6" height="9" fill="#cbcbcb"/><rect x="288.5" y="165.72" width="4.6" height="9" fill="#cbcbcb"/><rect x="294.17" y="165.72" width="4.6" height="9" fill="#cbcbcb"/><rect x="299.84" y="165.72" width="4.6" height="9" fill="#cbcbcb"/><rect x="305.52" y="165.72" width="4.6" height="9" fill="#cbcbcb"/><rect x="311.19" y="165.72" width="4.6" height="9" fill="#cbcbcb"/><rect x="316.86" y="165.72" width="4.6" height="9" fill="#cbcbcb"/><rect x="322.54" y="165.72" width="4.6" height="9" fill="#cbcbcb"/><rect x="328.21" y="165.72" width="4.6" height="9" fill="#cbcbcb"/><rect x="333.88" y="165.72" width="4.6" height="9" fill="#cbcbcb"/><rect x="339.56" y="165.72" width="4.6" height="9" fill="#cbcbcb"/><rect x="345.23" y="165.72" width="4.6" height="9" fill="#cbcbcb"/><rect x="350.9" y="165.72" width="4.6" height="9" fill="#cbcbcb"/><rect x="356.57" y="165.72" width="4.6" height="9" fill="#cbcbcb"/><rect x="362.25" y="165.72" width="4.6" height="9" fill="#cbcbcb"/><rect x="367.92" y="165.72" width="4.6" height="9" fill="#cbcbcb"/><rect x="373.59" y="165.72" width="4.6" height="9" fill="#cbcbcb"/><rect x="379.27" y="165.72" width="4.6" height="9" fill="#cbcbcb"/><rect x="384.94" y="165.72" width="4.6" height="9" fill="#cbcbcb"/><rect x="390.61" y="165.72" width="4.6" height="9" fill="#cbcbcb"/><rect x="396.28" y="165.72" width="4.6" height="9" fill="#cbcbcb"/><rect x="401.96" y="165.72" width="4.6" height="9" fill="#cbcbcb"/><rect x="407.63" y="165.72" width="4.6" height="9" fill="#cbcbcb"/><rect x="413.3" y="165.72" width="4.6" height="9" fill="#cbcbcb"/><rect x="418.98" y="165.72" width="4.6" height="9" fill="#cbcbcb"/><rect x="424.65" y="165.72" width="4.6" height="9" fill="#cbcbcb"/><rect x="430.32" y="165.72" width="4.6" height="9" fill="#cbcbcb"/><rect x="436" y="165.72" width="4.6" height="9" fill="#cbcbcb"/><rect x="441.67" y="165.72" width="4.6" height="9" fill="#cbcbcb"/><rect x="447.34" y="165.72" width="4.6" height="9" fill="#cbcbcb"/><rect x="453.01" y="165.72" width="4.6" height="9" fill="#cbcbcb"/><rect x="141" y="176.03" width="4.6" height="9" fill="#cbcbcb"/><rect x="146.67" y="176.03" width="4.6" height="9" fill="#cbcbcb"/><rect x="152.35" y="176.03" width="4.6" height="9" fill="#cbcbcb"/><rect x="158.02" y="176.03" width="4.6" height="9" fill="#cbcbcb"/><rect x="163.69" y="176.03" width="4.6" height="9" fill="#cbcbcb"/><rect x="169.37" y="176.03" width="4.6" height="9" fill="#cbcbcb"/><rect x="175.04" y="176.03" width="4.6" height="9" fill="#cbcbcb"/><rect x="180.71" y="176.03" width="4.6" height="9" fill="#cbcbcb"/><rect x="186.38" y="176.03" width="4.6" height="9" fill="#cbcbcb"/><rect x="192.06" y="176.03" width="4.6" height="9" fill="#cbcbcb"/><rect x="197.73" y="176.03" width="4.6" height="9" fill="#cbcbcb"/><rect x="203.4" y="176.03" width="4.6" height="9" fill="#cbcbcb"/><rect x="209.08" y="176.03" width="4.6" height="9" fill="#cbcbcb"/><rect x="214.75" y="176.03" width="4.6" height="9" fill="#cbcbcb"/><rect x="220.42" y="176.03" width="4.6" height="9" fill="#cbcbcb"/><rect x="226.09" y="176.03" width="4.6" height="9" fill="#cbcbcb"/><rect x="231.77" y="176.03" width="4.6" height="9" fill="#cbcbcb"/><rect x="237.44" y="176.03" width="4.6" height="9" fill="#cbcbcb"/><rect x="243.11" y="176.03" width="4.6" height="9" fill="#cbcbcb"/><rect x="248.79" y="176.03" width="4.6" height="9" fill="#cbcbcb"/><rect x="254.46" y="176.03" width="4.6" height="9" fill="#cbcbcb"/><rect x="260.13" y="176.03" width="4.6" height="9" fill="#cbcbcb"/><rect x="265.81" y="176.03" width="4.6" height="9" fill="#cbcbcb"/><rect x="271.48" y="176.03" width="4.6" height="9" fill="#cbcbcb"/><rect x="277.15" y="176.03" width="4.6" height="9" fill="#cbcbcb"/><rect x="282.82" y="176.03" width="4.6" height="9" fill="#cbcbcb"/><rect x="288.5" y="176.03" width="4.6" height="9" fill="#cbcbcb"/><rect x="294.17" y="176.03" width="4.6" height="9" fill="#cbcbcb"/><rect x="299.84" y="176.03" width="4.6" height="9" fill="#72ac38"/><rect x="305.52" y="176.03" width="4.6" height="9" fill="#cbcbcb"/><rect x="311.19" y="176.03" width="4.6" height="9" fill="#cbcbcb"/><rect x="316.86" y="176.03" width="4.6" height="9" fill="#cbcbcb"/><rect x="322.54" y="176.03" width="4.6" height="9" fill="#cbcbcb"/><rect x="328.21" y="176.03" width="4.6" height="9" fill="#cbcbcb"/><rect x="333.88" y="176.03" width="4.6" height="9" fill="#cbcbcb"/><rect x="339.56" y="176.03" width="4.6" height="9" fill="#cbcbcb"/><rect x="345.23" y="176.03" width="4.6" height="9" fill="#cbcbcb"/><rect x="350.9" y="176.03" width="4.6" height="9" fill="#cbcbcb"/><rect x="356.57" y="176.03" width="4.6" height="9" fill="#cbcbcb"/><rect x="362.25" y="176.03" width="4.6" height="9" fill="#cbcbcb"/><rect x="367.92" y="176.03" width="4.6" height="9" fill="#cbcbcb"/><rect x="373.59" y="176.03" width="4.6" height="9" fill="#cbcbcb"/><rect x="379.27" y="176.03" width="4.6" height="9" fill="#cbcbcb"/><rect x="384.94" y="176.03" width="4.6" height="9" fill="#cbcbcb"/><rect x="390.61" y="176.03" width="4.6" height="9" fill="#cbcbcb"/><rect x="396.28" y="176.03" width="4.6" height="9" fill="#cbcbcb"/><rect x="401.96" y="176.03" width="4.6" height="9" fill="#cbcbcb"/><rect x="407.63" y="176.03" width="4.6" height="9" fill="#cbcbcb"/><rect x="413.3" y="176.03" width="4.6" height="9" fill="#cbcbcb"/><rect x="418.98" y="176.03" width="4.6" height="9" fill="#cbcbcb"/><rect x="424.65" y="176.03" width="4.6" height="9" fill="#cbcbcb"/><rect x="430.32" y="176.03" width="4.6" height="9" fill="#cbcbcb"/><rect x="436" y="176.03" width="4.6" height="9" fill="#cbcbcb"/><rect x="441.67" y="176.03" width="4.6" height="9" fill="#cbcbcb"/><rect x="447.34" y="176.03" width="4.6" height="9" fill="#cbcbcb"/><rect x="453.01" y="176.03" width="4.6" height="9" fill="#cbcbcb"/><rect x="141" y="186.34" width="4.6" height="9" fill="#e6e6e6"/><rect x="146.67" y="186.34" width="4.6" height="9" fill="#e6e6e6"/><rect x="152.35" y="186.34" width="4.6" height="9" fill="#e6e6e6"/><rect x="158.02" y="186.34" width="4.6" height="9" fill="#e6e6e6"/><rect x="163.69" y="186.34" width="4.6" height="9" fill="#e6e6e6"/><rect x="169.37" y="186.34" width="4.6" height="9" fill="#e6e6e6"/><rect x="175.04" y="186.34" width="4.6" height="9" fill="#e9ad14"/><rect x="180.71" y="186.34" width="4.6" height="9" fill="#e6e6e6"/><rect x="186.38" y="186.34" width="4.6" height="9" fill="#e6e6e6"/><rect x="192.06" y="186.34" width="4.6" height="9" fill="#e6e6e6"/><rect x="197.73" y="186.34" width="4.6" height="9" fill="#e6e6e6"/><rect x="203.4" y="186.34" width="4.6" height="9" fill="#e6e6e6"/><rect x="209.08" y="186.34" width="4.6" height="9" fill="#e6e6e6"/><rect x="214.75" y="186.34" width="4.6" height="9" fill="#e6e6e6"/><rect x="220.42" y="186.34" width="4.6" height="9" fill="#e6e6e6"/><rect x="226.09" y="186.34" width="4.6" height="9" fill="#e6e6e6"/><rect x="231.77" y="186.34" width="4.6" height="9" fill="#e6e6e6"/><rect x="237.44" y="186.34" width="4.6" height="9" fill="#e6e6e6"/><rect x="243.11" y="186.34" width="4.6" height="9" fill="#e6e6e6"/><rect x="248.79" y="186.34" width="4.6" height="9" fill="#e6e6e6"/><rect x="254.46" y="186.34" width="4.6" height="9" fill="#e6e6e6"/><rect x="260.13" y="186.34" width="4.6" height="9" fill="#e6e6e6"/><rect x="265.81" y="186.34" width="4.6" height="9" fill="#e6e6e6"/><rect x="271.48" y="186.34" width="4.6" height="9" fill="#e6e6e6"/><rect x="277.15" y="186.34" width="4.6" height="9" fill="#e6e6e6"/><rect x="282.82" y="186.34" width="4.6" height="9" fill="#e6e6e6"/><rect x="288.5" y="186.34" width="4.6" height="9" fill="#e6e6e6"/><rect x="294.17" y="186.34" width="4.6" height="9" fill="#e6e6e6"/><rect x="299.84" y="186.34" width="4.6" height="9" fill="#e9ad14"/><rect x="305.52" y="186.34" width="4.6" height="9" fill="#e6e6e6"/><rect x="311.19" y="186.34" width="4.6" height="9" fill="#e6e6e6"/><rect x="316.86" y="186.34" width="4.6" height="9" fill="#e6e6e6"/><rect x="322.54" y="186.34" width="4.6" height="9" fill="#e6e6e6"/><rect x="328.21" y="186.34" width="4.6" height="9" fill="#e6e6e6"/><rect x="333.88" y="186.34" width="4.6" height="9" fill="#e6e6e6"/><rect x="339.56" y="186.34" width="4.6" height="9" fill="#e6e6e6"/><rect x="345.23" y="186.34" width="4.6" height="9" fill="#e6e6e6"/><rect x="350.9" y="186.34" width="4.6" height="9" fill="#e9ad14"/><rect x="356.57" y="186.34" width="4.6" height="9" fill="#e6e6e6"/><rect x="362.25" y="186.34" width="4.6" height="9" fill="#e6e6e6"/><rect x="367.92" y="186.34" width="4.6" height="9" fill="#e6e6e6"/><rect x="373.59" y="186.34" width="4.6" height="9" fill="#e6e6e6"/><rect x="379.27" y="186.34" width="4.6" height="9" fill="#e6e6e6"/><rect x="384.94" y="186.34" width="4.6" height="9" fill="#e6e6e6"/><rect x="390.61" y="186.34" width="4.6" height="9" fill="#e9ad14"/><rect x="396.28" y="186.34" width="4.6" height="9" fill="#e6e6e6"/><rect x="401.96" y="186.34" width="4.6" height="9" fill="#e6e6e6"/><rect x="407.63" y="186.34" width="4.6" height="9" fill="#e6e6e6"/><rect x="413.3" y="186.34" width="4.6" height="9" fill="#e6e6e6"/><rect x="418.98" y="186.34" width="4.6" height="9" fill="#7a4491"/><rect x="424.65" y="186.34" width="4.6" height="9" fill="#e6e6e6"/><rect x="430.32" y="186.34" width="4.6" height="9" fill="#e6e6e6"/><rect x="436" y="186.34" width="4.6" height="9" fill="#e6e6e6"/><rect x="441.67" y="186.34" width="4.6" height="9" fill="#e6e6e6"/><rect x="447.34" y="186.34" width="4.6" height="9" fill="#e6e6e6"/><rect x="453.01" y="186.34" width="4.6" height="9" fill="#e6e6e6"/><rect x="141" y="196.65" width="4.6" height="9" fill="#e9ad14"/><rect x="146.67" y="196.65" width="4.6" height="9" fill="#cbcbcb"/><rect x="152.35" y="196.65" width="4.6" height="9" fill="#cbcbcb"/><rect x="158.02" y="196.65" width="4.6" height="9" fill="#cbcbcb"/><rect x="163.69" y="196.65" width="4.6" height="9" fill="#cbcbcb"/><rect x="169.37" y="196.65" width="4.6" height="9" fill="#cbcbcb"/><rect x="175.04" y="196.65" width="4.6" height="9" fill="#cbcbcb"/><rect x="180.71" y="196.65" width="4.6" height="9" fill="#cbcbcb"/><rect x="186.38" y="196.65" width="4.6" height="9" fill="#cbcbcb"/><rect x="192.06" y="196.65" width="4.6" height="9" fill="#cbcbcb"/><rect x="197.73" y="196.65" width="4.6" height="9" fill="#cbcbcb"/><rect x="203.4" y="196.65" width="4.6" height="9" fill="#cbcbcb"/><rect x="209.08" y="196.65" width="4.6" height="9" fill="#cbcbcb"/><rect x="214.75" y="196.65" width="4.6" height="9" fill="#cbcbcb"/><rect x="220.42" y="196.65" width="4.6" height="9" fill="#cbcbcb"/><rect x="226.09" y="196.65" width="4.6" height="9" fill="#cbcbcb"/><rect x="231.77" y="196.65" width="4.6" height="9" fill="#cbcbcb"/><rect x="237.44" y="196.65" width="4.6" height="9" fill="#cbcbcb"/><rect x="243.11" y="196.65" width="4.6" height="9" fill="#cbcbcb"/><rect x="248.79" y="196.65" width="4.6" height="9" fill="#cbcbcb"/><rect x="254.46" y="196.65" width="4.6" height="9" fill="#cbcbcb"/><rect x="260.13" y="196.65" width="4.6" height="9" fill="#cbcbcb"/><rect x="265.81" y="196.65" width="4.6" height="9" fill="#cbcbcb"/><rect x="271.48" y="196.65" width="4.6" height="9" fill="#cbcbcb"/><rect x="277.15" y="196.65" width="4.6" height="9" fill="#cbcbcb"/><rect x="282.82" y="196.65" width="4.6" height="9" fill="#4899d3"/><rect x="288.5" y="196.65" width="4.6" height="9" fill="#cbcbcb"/><rect x="294.17" y="196.65" width="4.6" height="9" fill="#cbcbcb"/><rect x="299.84" y="196.65" width="4.6" height="9" fill="#cbcbcb"/><rect x="305.52" y="196.65" width="4.6" height="9" fill="#cbcbcb"/><rect x="311.19" y="196.65" width="4.6" height="9" fill="#cbcbcb"/><rect x="316.86" y="196.65" width="4.6" height="9" fill="#cbcbcb"/><rect x="322.54" y="196.65" width="4.6" height="9" fill="#cbcbcb"/><rect x="328.21" y="196.65" width="4.6" height="9" fill="#cbcbcb"/><rect x="333.88" y="196.65" width="4.6" height="9" fill="#cbcbcb"/><rect x="339.56" y="196.65" width="4.6" height="9" fill="#cbcbcb"/><rect x="345.23" y="196.65" width="4.6" height="9" fill="#7a4491"/><rect x="350.9" y="196.65" width="4.6" height="9" fill="#cbcbcb"/><rect x="356.57" y="196.65" width="4.6" height="9" fill="#cbcbcb"/><rect x="362.25" y="196.65" width="4.6" height="9" fill="#cbcbcb"/><rect x="367.92" y="196.65" width="4.6" height="9" fill="#cbcbcb"/><rect x="373.59" y="196.65" width="4.6" height="9" fill="#cbcbcb"/><rect x="379.27" y="196.65" width="4.6" height="9" fill="#cbcbcb"/><rect x="384.94" y="196.65" width="4.6" height="9" fill="#cbcbcb"/><rect x="390.61" y="196.65" width="4.6" height="9" fill="#cbcbcb"/><rect x="396.28" y="196.65" width="4.6" height="9" fill="#cbcbcb"/><rect x="401.96" y="196.65" width="4.6" height="9" fill="#cbcbcb"/><rect x="407.63" y="196.65" width="4.6" height="9" fill="#cbcbcb"/><rect x="413.3" y="196.65" width="4.6" height="9" fill="#cbcbcb"/><rect x="418.98" y="196.65" width="4.6" height="9" fill="#cbcbcb"/><rect x="424.65" y="196.65" width="4.6" height="9" fill="#cbcbcb"/><rect x="430.32" y="196.65" width="4.6" height="9" fill="#cbcbcb"/><rect x="436" y="196.65" width="4.6" height="9" fill="#cbcbcb"/><rect x="441.67" y="196.65" width="4.6" height="9" fill="#cbcbcb"/><rect x="447.34" y="196.65" width="4.6" height="9" fill="#cbcbcb"/><rect x="453.01" y="196.65" width="4.6" height="9" fill="#cbcbcb"/><rect x="141" y="206.96" width="4.6" height="9" fill="#cbcbcb"/><rect x="146.67" y="206.96" width="4.6" height="9" fill="#cbcbcb"/><rect x="152.35" y="206.96" width="4.6" height="9" fill="#cbcbcb"/><rect x="158.02" y="206.96" width="4.6" height="9" fill="#cbcbcb"/><rect x="163.69" y="206.96" width="4.6" height="9" fill="#cbcbcb"/><rect x="169.37" y="206.96" width="4.6" height="9" fill="#cbcbcb"/><rect x="175.04" y="206.96" width="4.6" height="9" fill="#cbcbcb"/><rect x="180.71" y="206.96" width="4.6" height="9" fill="#e9ad14"/><rect x="186.38" y="206.96" width="4.6" height="9" fill="#cbcbcb"/><rect x="192.06" y="206.96" width="4.6" height="9" fill="#cbcbcb"/><rect x="197.73" y="206.96" width="4.6" height="9" fill="#cbcbcb"/><rect x="203.4" y="206.96" width="4.6" height="9" fill="#cbcbcb"/><rect x="209.08" y="206.96" width="4.6" height="9" fill="#cbcbcb"/><rect x="214.75" y="206.96" width="4.6" height="9" fill="#cbcbcb"/><rect x="220.42" y="206.96" width="4.6" height="9" fill="#cbcbcb"/><rect x="226.09" y="206.96" width="4.6" height="9" fill="#cbcbcb"/><rect x="231.77" y="206.96" width="4.6" height="9" fill="#cbcbcb"/><rect x="237.44" y="206.96" width="4.6" height="9" fill="#cbcbcb"/><rect x="243.11" y="206.96" width="4.6" height="9" fill="#cbcbcb"/><rect x="248.79" y="206.96" width="4.6" height="9" fill="#cbcbcb"/><rect x="254.46" y="206.96" width="4.6" height="9" fill="#cbcbcb"/><rect x="260.13" y="206.96" width="4.6" height="9" fill="#cbcbcb"/><rect x="265.81" y="206.96" width="4.6" height="9" fill="#cbcbcb"/><rect x="271.48" y="206.96" width="4.6" height="9" fill="#cbcbcb"/><rect x="277.15" y="206.96" width="4.6" height="9" fill="#cbcbcb"/><rect x="282.82" y="206.96" width="4.6" height="9" fill="#cbcbcb"/><rect x="288.5" y="206.96" width="4.6" height="9" fill="#cbcbcb"/><rect x="294.17" y="206.96" width="4.6" height="9" fill="#cbcbcb"/><rect x="299.84" y="206.96" width="4.6" height="9" fill="#cbcbcb"/><rect x="305.52" y="206.96" width="4.6" height="9" fill="#cbcbcb"/><rect x="311.19" y="206.96" width="4.6" height="9" fill="#cbcbcb"/><rect x="316.86" y="206.96" width="4.6" height="9" fill="#cbcbcb"/><rect x="322.54" y="206.96" width="4.6" height="9" fill="#cbcbcb"/><rect x="328.21" y="206.96" width="4.6" height="9" fill="#cbcbcb"/><rect x="333.88" y="206.96" width="4.6" height="9" fill="#cbcbcb"/><rect x="339.56" y="206.96" width="4.6" height="9" fill="#cbcbcb"/><rect x="345.23" y="206.96" width="4.6" height="9" fill="#cbcbcb"/><rect x="350.9" y="206.96" width="4.6" height="9" fill="#7a4491"/><rect x="356.57" y="206.96" width="4.6" height="9" fill="#cbcbcb"/><rect x="362.25" y="206.96" width="4.6" height="9" fill="#cbcbcb"/><rect x="367.92" y="206.96" width="4.6" height="9" fill="#cbcbcb"/><rect x="373.59" y="206.96" width="4.6" height="9" fill="#cbcbcb"/><rect x="379.27" y="206.96" width="4.6" height="9" fill="#cbcbcb"/><rect x="384.94" y="206.96" width="4.6" height="9" fill="#e9ad14"/><rect x="390.61" y="206.96" width="4.6" height="9" fill="#cbcbcb"/><rect x="396.28" y="206.96" width="4.6" height="9" fill="#cbcbcb"/><rect x="401.96" y="206.96" width="4.6" height="9" fill="#cbcbcb"/><rect x="407.63" y="206.96" width="4.6" height="9" fill="#cbcbcb"/><rect x="413.3" y="206.96" width="4.6" height="9" fill="#cbcbcb"/><rect x="418.98" y="206.96" width="4.6" height="9" fill="#cbcbcb"/><rect x="424.65" y="206.96" width="4.6" height="9" fill="#cbcbcb"/><rect x="430.32" y="206.96" width="4.6" height="9" fill="#cbcbcb"/><rect x="436" y="206.96" width="4.6" height="9" fill="#cbcbcb"/><rect x="441.67" y="206.96" width="4.6" height="9" fill="#cbcbcb"/><rect x="447.34" y="206.96" width="4.6" height="9" fill="#cbcbcb"/><rect x="453.01" y="206.96" width="4.6" height="9" fill="#cbcbcb"/><rect x="141" y="217.27" width="4.6" height="9" fill="#cbcbcb"/><rect x="146.67" y="217.27" width="4.6" height="9" fill="#cbcbcb"/><rect x="152.35" y="217.27" width="4.6" height="9" fill="#cbcbcb"/><rect x="158.02" y="217.27" width="4.6" height="9" fill="#cbcbcb"/><rect x="163.69" y="217.27" width="4.6" height="9" fill="#cbcbcb"/><rect x="169.37" y="217.27" width="4.6" height="9" fill="#cbcbcb"/><rect x="175.04" y="217.27" width="4.6" height="9" fill="#cbcbcb"/><rect x="180.71" y="217.27" width="4.6" height="9" fill="#cbcbcb"/><rect x="186.38" y="217.27" width="4.6" height="9" fill="#cbcbcb"/><rect x="192.06" y="217.27" width="4.6" height="9" fill="#cbcbcb"/><rect x="197.73" y="217.27" width="4.6" height="9" fill="#cbcbcb"/><rect x="203.4" y="217.27" width="4.6" height="9" fill="#cbcbcb"/><rect x="209.08" y="217.27" width="4.6" height="9" fill="#cbcbcb"/><rect x="214.75" y="217.27" width="4.6" height="9" fill="#cbcbcb"/><rect x="220.42" y="217.27" width="4.6" height="9" fill="#cbcbcb"/><rect x="226.09" y="217.27" width="4.6" height="9" fill="#e9ad14"/><rect x="231.77" y="217.27" width="4.6" height="9" fill="#cbcbcb"/><rect x="237.44" y="217.27" width="4.6" height="9" fill="#cbcbcb"/><rect x="243.11" y="217.27" width="4.6" height="9" fill="#cbcbcb"/><rect x="248.79" y="217.27" width="4.6" height="9" fill="#cbcbcb"/><rect x="254.46" y="217.27" width="4.6" height="9" fill="#cbcbcb"/><rect x="260.13" y="217.27" width="4.6" height="9" fill="#cbcbcb"/><rect x="265.81" y="217.27" width="4.6" height="9" fill="#cbcbcb"/><rect x="271.48" y="217.27" width="4.6" height="9" fill="#cbcbcb"/><rect x="277.15" y="217.27" width="4.6" height="9" fill="#cbcbcb"/><rect x="282.82" y="217.27" width="4.6" height="9" fill="#cbcbcb"/><rect x="288.5" y="217.27" width="4.6" height="9" fill="#cbcbcb"/><rect x="294.17" y="217.27" width="4.6" height="9" fill="#cbcbcb"/><rect x="299.84" y="217.27" width="4.6" height="9" fill="#cbcbcb"/><rect x="305.52" y="217.27" width="4.6" height="9" fill="#cbcbcb"/><rect x="311.19" y="217.27" width="4.6" height="9" fill="#cbcbcb"/><rect x="316.86" y="217.27" width="4.6" height="9" fill="#cbcbcb"/><rect x="322.54" y="217.27" width="4.6" height="9" fill="#cbcbcb"/><rect x="328.21" y="217.27" width="4.6" height="9" fill="#cbcbcb"/><rect x="333.88" y="217.27" width="4.6" height="9" fill="#cbcbcb"/><rect x="339.56" y="217.27" width="4.6" height="9" fill="#cbcbcb"/><rect x="345.23" y="217.27" width="4.6" height="9" fill="#cbcbcb"/><rect x="350.9" y="217.27" width="4.6" height="9" fill="#cbcbcb"/><rect x="356.57" y="217.27" width="4.6" height="9" fill="#cbcbcb"/><rect x="362.25" y="217.27" width="4.6" height="9" fill="#cbcbcb"/><rect x="367.92" y="217.27" width="4.6" height="9" fill="#cbcbcb"/><rect x="373.59" y="217.27" width="4.6" height="9" fill="#cbcbcb"/><rect x="379.27" y="217.27" width="4.6" height="9" fill="#cbcbcb"/><rect x="384.94" y="217.27" width="4.6" height="9" fill="#cbcbcb"/><rect x="390.61" y="217.27" width="4.6" height="9" fill="#cbcbcb"/><rect x="396.28" y="217.27" width="4.6" height="9" fill="#cbcbcb"/><rect x="401.96" y="217.27" width="4.6" height="9" fill="#cbcbcb"/><rect x="407.63" y="217.27" width="4.6" height="9" fill="#cbcbcb"/><rect x="413.3" y="217.27" width="4.6" height="9" fill="#cbcbcb"/><rect x="418.98" y="217.27" width="4.6" height="9" fill="#cbcbcb"/><rect x="424.65" y="217.27" width="4.6" height="9" fill="#cbcbcb"/><rect x="430.32" y="217.27" width="4.6" height="9" fill="#cbcbcb"/><rect x="436" y="217.27" width="4.6" height="9" fill="#cbcbcb"/><rect x="441.67" y="217.27" width="4.6" height="9" fill="#cbcbcb"/><rect x="447.34" y="217.27" width="4.6" height="9" fill="#cbcbcb"/><rect x="453.01" y="217.27" width="4.6" height="9" fill="#cbcbcb"/><rect x="141" y="227.58" width="4.6" height="9" fill="#cbcbcb"/><rect x="146.67" y="227.58" width="4.6" height="9" fill="#cbcbcb"/><rect x="152.35" y="227.58" width="4.6" height="9" fill="#cbcbcb"/><rect x="158.02" y="227.58" width="4.6" height="9" fill="#cbcbcb"/><rect x="163.69" y="227.58" width="4.6" height="9" fill="#cbcbcb"/><rect x="169.37" y="227.58" width="4.6" height="9" fill="#cbcbcb"/><rect x="175.04" y="227.58" width="4.6" height="9" fill="#cbcbcb"/><rect x="180.71" y="227.58" width="4.6" height="9" fill="#cbcbcb"/><rect x="186.38" y="227.58" width="4.6" height="9" fill="#cbcbcb"/><rect x="192.06" y="227.58" width="4.6" height="9" fill="#cbcbcb"/><rect x="197.73" y="227.58" width="4.6" height="9" fill="#cbcbcb"/><rect x="203.4" y="227.58" width="4.6" height="9" fill="#cbcbcb"/><rect x="209.08" y="227.58" width="4.6" height="9" fill="#cbcbcb"/><rect x="214.75" y="227.58" width="4.6" height="9" fill="#cbcbcb"/><rect x="220.42" y="227.58" width="4.6" height="9" fill="#cbcbcb"/><rect x="226.09" y="227.58" width="4.6" height="9" fill="#cbcbcb"/><rect x="231.77" y="227.58" width="4.6" height="9" fill="#cbcbcb"/><rect x="237.44" y="227.58" width="4.6" height="9" fill="#cbcbcb"/><rect x="243.11" y="227.58" width="4.6" height="9" fill="#cbcbcb"/><rect x="248.79" y="227.58" width="4.6" height="9" fill="#cbcbcb"/><rect x="254.46" y="227.58" width="4.6" height="9" fill="#cbcbcb"/><rect x="260.13" y="227.58" width="4.6" height="9" fill="#cbcbcb"/><rect x="265.81" y="227.58" width="4.6" height="9" fill="#cbcbcb"/><rect x="271.48" y="227.58" width="4.6" height="9" fill="#cbcbcb"/><rect x="277.15" y="227.58" width="4.6" height="9" fill="#cbcbcb"/><rect x="282.82" y="227.58" width="4.6" height="9" fill="#cbcbcb"/><rect x="288.5" y="227.58" width="4.6" height="9" fill="#cbcbcb"/><rect x="294.17" y="227.58" width="4.6" height="9" fill="#cbcbcb"/><rect x="299.84" y="227.58" width="4.6" height="9" fill="#cbcbcb"/><rect x="305.52" y="227.58" width="4.6" height="9" fill="#cbcbcb"/><rect x="311.19" y="227.58" width="4.6" height="9" fill="#cbcbcb"/><rect x="316.86" y="227.58" width="4.6" height="9" fill="#cbcbcb"/><rect x="322.54" y="227.58" width="4.6" height="9" fill="#cbcbcb"/><rect x="328.21" y="227.58" width="4.6" height="9" fill="#cbcbcb"/><rect x="333.88" y="227.58" width="4.6" height="9" fill="#cbcbcb"/><rect x="339.56" y="227.58" width="4.6" height="9" fill="#cbcbcb"/><rect x="345.23" y="227.58" width="4.6" height="9" fill="#cbcbcb"/><rect x="350.9" y="227.58" width="4.6" height="9" fill="#cbcbcb"/><rect x="356.57" y="227.58" width="4.6" height="9" fill="#cbcbcb"/><rect x="362.25" y="227.58" width="4.6" height="9" fill="#cbcbcb"/><rect x="367.92" y="227.58" width="4.6" height="9" fill="#cbcbcb"/><rect x="373.59" y="227.58" width="4.6" height="9" fill="#cbcbcb"/><rect x="379.27" y="227.58" width="4.6" height="9" fill="#cbcbcb"/><rect x="384.94" y="227.58" width="4.6" height="9" fill="#cbcbcb"/><rect x="390.61" y="227.58" width="4.6" height="9" fill="#cbcbcb"/><rect x="396.28" y="227.58" width="4.6" height="9" fill="#cbcbcb"/><rect x="401.96" y="227.58" width="4.6" height="9" fill="#cbcbcb"/><rect x="407.63" y="227.58" width="4.6" height="9" fill="#cbcbcb"/><rect x="413.3" y="227.58" width="4.6" height="9" fill="#cbcbcb"/><rect x="418.98" y="227.58" width="4.6" height="9" fill="#cbcbcb"/><rect x="424.65" y="227.58" width="4.6" height="9" fill="#e9ad14"/><rect x="430.32" y="227.58" width="4.6" height="9" fill="#cbcbcb"/><rect x="436" y="227.58" width="4.6" height="9" fill="#cbcbcb"/><rect x="441.67" y="227.58" width="4.6" height="9" fill="#cbcbcb"/><rect x="447.34" y="227.58" width="4.6" height="9" fill="#cbcbcb"/><rect x="453.01" y="227.58" width="4.6" height="9" fill="#cbcbcb"/><rect x="141" y="237.89" width="4.6" height="9" fill="#cbcbcb"/><rect x="146.67" y="237.89" width="4.6" height="9" fill="#cbcbcb"/><rect x="152.35" y="237.89" width="4.6" height="9" fill="#cbcbcb"/><rect x="158.02" y="237.89" width="4.6" height="9" fill="#cbcbcb"/><rect x="163.69" y="237.89" width="4.6" height="9" fill="#cbcbcb"/><rect x="169.37" y="237.89" width="4.6" height="9" fill="#cbcbcb"/><rect x="175.04" y="237.89" width="4.6" height="9" fill="#cbcbcb"/><rect x="180.71" y="237.89" width="4.6" height="9" fill="#cbcbcb"/><rect x="186.38" y="237.89" width="4.6" height="9" fill="#cbcbcb"/><rect x="192.06" y="237.89" width="4.6" height="9" fill="#cbcbcb"/><rect x="197.73" y="237.89" width="4.6" height="9" fill="#cbcbcb"/><rect x="203.4" y="237.89" width="4.6" height="9" fill="#cbcbcb"/><rect x="209.08" y="237.89" width="4.6" height="9" fill="#cbcbcb"/><rect x="214.75" y="237.89" width="4.6" height="9" fill="#cbcbcb"/><rect x="220.42" y="237.89" width="4.6" height="9" fill="#cbcbcb"/><rect x="226.09" y="237.89" width="4.6" height="9" fill="#cbcbcb"/><rect x="231.77" y="237.89" width="4.6" height="9" fill="#cbcbcb"/><rect x="237.44" y="237.89" width="4.6" height="9" fill="#cbcbcb"/><rect x="243.11" y="237.89" width="4.6" height="9" fill="#cbcbcb"/><rect x="248.79" y="237.89" width="4.6" height="9" fill="#cbcbcb"/><rect x="254.46" y="237.89" width="4.6" height="9" fill="#cbcbcb"/><rect x="260.13" y="237.89" width="4.6" height="9" fill="#cbcbcb"/><rect x="265.81" y="237.89" width="4.6" height="9" fill="#cbcbcb"/><rect x="271.48" y="237.89" width="4.6" height="9" fill="#cbcbcb"/><rect x="277.15" y="237.89" width="4.6" height="9" fill="#cbcbcb"/><rect x="282.82" y="237.89" width="4.6" height="9" fill="#cbcbcb"/><rect x="288.5" y="237.89" width="4.6" height="9" fill="#cbcbcb"/><rect x="294.17" y="237.89" width="4.6" height="9" fill="#cbcbcb"/><rect x="299.84" y="237.89" width="4.6" height="9" fill="#cbcbcb"/><rect x="305.52" y="237.89" width="4.6" height="9" fill="#cbcbcb"/><rect x="311.19" y="237.89" width="4.6" height="9" fill="#cbcbcb"/><rect x="316.86" y="237.89" width="4.6" height="9" fill="#cbcbcb"/><rect x="322.54" y="237.89" width="4.6" height="9" fill="#cbcbcb"/><rect x="328.21" y="237.89" width="4.6" height="9" fill="#cbcbcb"/><rect x="333.88" y="237.89" width="4.6" height="9" fill="#cbcbcb"/><rect x="339.56" y="237.89" width="4.6" height="9" fill="#cbcbcb"/><rect x="345.23" y="237.89" width="4.6" height="9" fill="#cbcbcb"/><rect x="350.9" y="237.89" width="4.6" height="9" fill="#cbcbcb"/><rect x="356.57" y="237.89" width="4.6" height="9" fill="#cbcbcb"/><rect x="362.25" y="237.89" width="4.6" height="9" fill="#cbcbcb"/><rect x="367.92" y="237.89" width="4.6" height="9" fill="#c5321f"/><rect x="373.59" y="237.89" width="4.6" height="9" fill="#cbcbcb"/><rect x="379.27" y="237.89" width="4.6" height="9" fill="#cbcbcb"/><rect x="384.94" y="237.89" width="4.6" height="9" fill="#cbcbcb"/><rect x="390.61" y="237.89" width="4.6" height="9" fill="#cbcbcb"/><rect x="396.28" y="237.89" width="4.6" height="9" fill="#cbcbcb"/><rect x="401.96" y="237.89" width="4.6" height="9" fill="#cbcbcb"/><rect x="407.63" y="237.89" width="4.6" height="9" fill="#cbcbcb"/><rect x="413.3" y="237.89" width="4.6" height="9" fill="#cbcbcb"/><rect x="418.98" y="237.89" width="4.6" height="9" fill="#cbcbcb"/><rect x="424.65" y="237.89" width="4.6" height="9" fill="#cbcbcb"/><rect x="430.32" y="237.89" width="4.6" height="9" fill="#cbcbcb"/><rect x="436" y="237.89" width="4.6" height="9" fill="#cbcbcb"/><rect x="441.67" y="237.89" width="4.6" height="9" fill="#cbcbcb"/><rect x="447.34" y="237.89" width="4.6" height="9" fill="#cbcbcb"/><rect x="453.01" y="237.89" width="4.6" height="9" fill="#cbcbcb"/><rect x="141" y="248.2" width="4.6" height="9" fill="#e6e6e6"/><rect x="146.67" y="248.2" width="4.6" height="9" fill="#e6e6e6"/><rect x="152.35" y="248.2" width="4.6" height="9" fill="#e6e6e6"/><rect x="158.02" y="248.2" width="4.6" height="9" fill="#e6e6e6"/><rect x="163.69" y="248.2" width="4.6" height="9" fill="#e6e6e6"/><rect x="169.37" y="248.2" width="4.6" height="9" fill="#e6e6e6"/><rect x="175.04" y="248.2" width="4.6" height="9" fill="#e6e6e6"/><rect x="180.71" y="248.2" width="4.6" height="9" fill="#e6e6e6"/><rect x="186.38" y="248.2" width="4.6" height="9" fill="#e6e6e6"/><rect x="192.06" y="248.2" width="4.6" height="9" fill="#e6e6e6"/><rect x="197.73" y="248.2" width="4.6" height="9" fill="#e6e6e6"/><rect x="203.4" y="248.2" width="4.6" height="9" fill="#e6e6e6"/><rect x="209.08" y="248.2" width="4.6" height="9" fill="#e6e6e6"/><rect x="214.75" y="248.2" width="4.6" height="9" fill="#e6e6e6"/><rect x="220.42" y="248.2" width="4.6" height="9" fill="#e6e6e6"/><rect x="226.09" y="248.2" width="4.6" height="9" fill="#e6e6e6"/><rect x="231.77" y="248.2" width="4.6" height="9" fill="#e6e6e6"/><rect x="237.44" y="248.2" width="4.6" height="9" fill="#e6e6e6"/><rect x="243.11" y="248.2" width="4.6" height="9" fill="#e6e6e6"/><rect x="248.79" y="248.2" width="4.6" height="9" fill="#e6e6e6"/><rect x="254.46" y="248.2" width="4.6" height="9" fill="#e6e6e6"/><rect x="260.13" y="248.2" width="4.6" height="9" fill="#e6e6e6"/><rect x="265.81" y="248.2" width="4.6" height="9" fill="#e6e6e6"/><rect x="271.48" y="248.2" width="4.6" height="9" fill="#e6e6e6"/><rect x="277.15" y="248.2" width="4.6" height="9" fill="#e6e6e6"/><rect x="282.82" y="248.2" width="4.6" height="9" fill="#e6e6e6"/><rect x="288.5" y="248.2" width="4.6" height="9" fill="#e6e6e6"/><rect x="294.17" y="248.2" width="4.6" height="9" fill="#e6e6e6"/><rect x="299.84" y="248.2" width="4.6" height="9" fill="#e6e6e6"/><rect x="305.52" y="248.2" width="4.6" height="9" fill="#e6e6e6"/><rect x="311.19" y="248.2" width="4.6" height="9" fill="#e6e6e6"/><rect x="316.86" y="248.2" width="4.6" height="9" fill="#e6e6e6"/><rect x="322.54" y="248.2" width="4.6" height="9" fill="#e6e6e6"/><rect x="328.21" y="248.2" width="4.6" height="9" fill="#e6e6e6"/><rect x="333.88" y="248.2" width="4.6" height="9" fill="#e6e6e6"/><rect x="339.56" y="248.2" width="4.6" height="9" fill="#e6e6e6"/><rect x="345.23" y="248.2" width="4.6" height="9" fill="#e6e6e6"/><rect x="350.9" y="248.2" width="4.6" height="9" fill="#e6e6e6"/><rect x="356.57" y="248.2" width="4.6" height="9" fill="#e6e6e6"/><rect x="362.25" y="248.2" width="4.6" height="9" fill="#e6e6e6"/><rect x="367.92" y="248.2" width="4.6" height="9" fill="#e9ad14"/><rect x="373.59" y="248.2" width="4.6" height="9" fill="#e6e6e6"/><rect x="379.27" y="248.2" width="4.6" height="9" fill="#e6e6e6"/><rect x="384.94" y="248.2" width="4.6" height="9" fill="#c5321f"/><rect x="390.61" y="248.2" width="4.6" height="9" fill="#d6694a"/><rect x="396.28" y="248.2" width="4.6" height="9" fill="#e6e6e6"/><rect x="401.96" y="248.2" width="4.6" height="9" fill="#e6e6e6"/><rect x="407.63" y="248.2" width="4.6" height="9" fill="#e6e6e6"/><rect x="413.3" y="248.2" width="4.6" height="9" fill="#e6e6e6"/><rect x="418.98" y="248.2" width="4.6" height="9" fill="#e6e6e6"/><rect x="424.65" y="248.2" width="4.6" height="9" fill="#e6e6e6"/><rect x="430.32" y="248.2" width="4.6" height="9" fill="#e6e6e6"/><rect x="436" y="248.2" width="4.6" height="9" fill="#e6e6e6"/><rect x="441.67" y="248.2" width="4.6" height="9" fill="#e6e6e6"/><rect x="447.34" y="248.2" width="4.6" height="9" fill="#e6e6e6"/><rect x="453.01" y="248.2" width="4.6" height="9" fill="#e6e6e6"/><rect x="141" y="258.51" width="4.6" height="9" fill="#e6e6e6"/><rect x="146.67" y="258.51" width="4.6" height="9" fill="#e6e6e6"/><rect x="152.35" y="258.51" width="4.6" height="9" fill="#e6e6e6"/><rect x="158.02" y="258.51" width="4.6" height="9" fill="#e6e6e6"/><rect x="163.69" y="258.51" width="4.6" height="9" fill="#e6e6e6"/><rect x="169.37" y="258.51" width="4.6" height="9" fill="#e6e6e6"/><rect x="175.04" y="258.51" width="4.6" height="9" fill="#e6e6e6"/><rect x="180.71" y="258.51" width="4.6" height="9" fill="#e6e6e6"/><rect x="186.38" y="258.51" width="4.6" height="9" fill="#e6e6e6"/><rect x="192.06" y="258.51" width="4.6" height="9" fill="#e6e6e6"/><rect x="197.73" y="258.51" width="4.6" height="9" fill="#e6e6e6"/><rect x="203.4" y="258.51" width="4.6" height="9" fill="#e6e6e6"/><rect x="209.08" y="258.51" width="4.6" height="9" fill="#e6e6e6"/><rect x="214.75" y="258.51" width="4.6" height="9" fill="#e6e6e6"/><rect x="220.42" y="258.51" width="4.6" height="9" fill="#e6e6e6"/><rect x="226.09" y="258.51" width="4.6" height="9" fill="#e6e6e6"/><rect x="231.77" y="258.51" width="4.6" height="9" fill="#e6e6e6"/><rect x="237.44" y="258.51" width="4.6" height="9" fill="#e6e6e6"/><rect x="243.11" y="258.51" width="4.6" height="9" fill="#e6e6e6"/><rect x="248.79" y="258.51" width="4.6" height="9" fill="#e6e6e6"/><rect x="254.46" y="258.51" width="4.6" height="9" fill="#e6e6e6"/><rect x="260.13" y="258.51" width="4.6" height="9" fill="#e6e6e6"/><rect x="265.81" y="258.51" width="4.6" height="9" fill="#e6e6e6"/><rect x="271.48" y="258.51" width="4.6" height="9" fill="#e6e6e6"/><rect x="277.15" y="258.51" width="4.6" height="9" fill="#e6e6e6"/><rect x="282.82" y="258.51" width="4.6" height="9" fill="#e6e6e6"/><rect x="288.5" y="258.51" width="4.6" height="9" fill="#e6e6e6"/><rect x="294.17" y="258.51" width="4.6" height="9" fill="#e6e6e6"/><rect x="299.84" y="258.51" width="4.6" height="9" fill="#4899d3"/><rect x="305.52" y="258.51" width="4.6" height="9" fill="#e6e6e6"/><rect x="311.19" y="258.51" width="4.6" height="9" fill="#e6e6e6"/><rect x="316.86" y="258.51" width="4.6" height="9" fill="#e6e6e6"/><rect x="322.54" y="258.51" width="4.6" height="9" fill="#e6e6e6"/><rect x="328.21" y="258.51" width="4.6" height="9" fill="#e6e6e6"/><rect x="333.88" y="258.51" width="4.6" height="9" fill="#e6e6e6"/><rect x="339.56" y="258.51" width="4.6" height="9" fill="#e6e6e6"/><rect x="345.23" y="258.51" width="4.6" height="9" fill="#e6e6e6"/><rect x="350.9" y="258.51" width="4.6" height="9" fill="#e6e6e6"/><rect x="356.57" y="258.51" width="4.6" height="9" fill="#e6e6e6"/><rect x="362.25" y="258.51" width="4.6" height="9" fill="#e6e6e6"/><rect x="367.92" y="258.51" width="4.6" height="9" fill="#e6e6e6"/><rect x="373.59" y="258.51" width="4.6" height="9" fill="#e6e6e6"/><rect x="379.27" y="258.51" width="4.6" height="9" fill="#e6e6e6"/><rect x="384.94" y="258.51" width="4.6" height="9" fill="#e6e6e6"/><rect x="390.61" y="258.51" width="4.6" height="9" fill="#e6e6e6"/><rect x="396.28" y="258.51" width="4.6" height="9" fill="#e6e6e6"/><rect x="401.96" y="258.51" width="4.6" height="9" fill="#e6e6e6"/><rect x="407.63" y="258.51" width="4.6" height="9" fill="#e6e6e6"/><rect x="413.3" y="258.51" width="4.6" height="9" fill="#e6e6e6"/><rect x="418.98" y="258.51" width="4.6" height="9" fill="#e6e6e6"/><rect x="424.65" y="258.51" width="4.6" height="9" fill="#e6e6e6"/><rect x="430.32" y="258.51" width="4.6" height="9" fill="#e6e6e6"/><rect x="436" y="258.51" width="4.6" height="9" fill="#e6e6e6"/><rect x="441.67" y="258.51" width="4.6" height="9" fill="#e6e6e6"/><rect x="447.34" y="258.51" width="4.6" height="9" fill="#e6e6e6"/><rect x="453.01" y="258.51" width="4.6" height="9" fill="#e6e6e6"/><rect x="141" y="268.82" width="4.6" height="9" fill="#e6e6e6"/><rect x="146.67" y="268.82" width="4.6" height="9" fill="#e6e6e6"/><rect x="152.35" y="268.82" width="4.6" height="9" fill="#e6e6e6"/><rect x="158.02" y="268.82" width="4.6" height="9" fill="#e6e6e6"/><rect x="163.69" y="268.82" width="4.6" height="9" fill="#e6e6e6"/><rect x="169.37" y="268.82" width="4.6" height="9" fill="#e6e6e6"/><rect x="175.04" y="268.82" width="4.6" height="9" fill="#4899d3"/><rect x="180.71" y="268.82" width="4.6" height="9" fill="#e6e6e6"/><rect x="186.38" y="268.82" width="4.6" height="9" fill="#e6e6e6"/><rect x="192.06" y="268.82" width="4.6" height="9" fill="#e6e6e6"/><rect x="197.73" y="268.82" width="4.6" height="9" fill="#e6e6e6"/><rect x="203.4" y="268.82" width="4.6" height="9" fill="#e6e6e6"/><rect x="209.08" y="268.82" width="4.6" height="9" fill="#e6e6e6"/><rect x="214.75" y="268.82" width="4.6" height="9" fill="#e6e6e6"/><rect x="220.42" y="268.82" width="4.6" height="9" fill="#e6e6e6"/><rect x="226.09" y="268.82" width="4.6" height="9" fill="#e6e6e6"/><rect x="231.77" y="268.82" width="4.6" height="9" fill="#e6e6e6"/><rect x="237.44" y="268.82" width="4.6" height="9" fill="#e6e6e6"/><rect x="243.11" y="268.82" width="4.6" height="9" fill="#e6e6e6"/><rect x="248.79" y="268.82" width="4.6" height="9" fill="#e6e6e6"/><rect x="254.46" y="268.82" width="4.6" height="9" fill="#e6e6e6"/><rect x="260.13" y="268.82" width="4.6" height="9" fill="#e6e6e6"/><rect x="265.81" y="268.82" width="4.6" height="9" fill="#e6e6e6"/><rect x="271.48" y="268.82" width="4.6" height="9" fill="#e6e6e6"/><rect x="277.15" y="268.82" width="4.6" height="9" fill="#e6e6e6"/><rect x="282.82" y="268.82" width="4.6" height="9" fill="#e6e6e6"/><rect x="288.5" y="268.82" width="4.6" height="9" fill="#e6e6e6"/><rect x="294.17" y="268.82" width="4.6" height="9" fill="#e6e6e6"/><rect x="299.84" y="268.82" width="4.6" height="9" fill="#e6e6e6"/><rect x="305.52" y="268.82" width="4.6" height="9" fill="#e6e6e6"/><rect x="311.19" y="268.82" width="4.6" height="9" fill="#e6e6e6"/><rect x="316.86" y="268.82" width="4.6" height="9" fill="#e6e6e6"/><rect x="322.54" y="268.82" width="4.6" height="9" fill="#e6e6e6"/><rect x="328.21" y="268.82" width="4.6" height="9" fill="#e6e6e6"/><rect x="333.88" y="268.82" width="4.6" height="9" fill="#e6e6e6"/><rect x="339.56" y="268.82" width="4.6" height="9" fill="#e6e6e6"/><rect x="345.23" y="268.82" width="4.6" height="9" fill="#e6e6e6"/><rect x="350.9" y="268.82" width="4.6" height="9" fill="#e6e6e6"/><rect x="356.57" y="268.82" width="4.6" height="9" fill="#e6e6e6"/><rect x="362.25" y="268.82" width="4.6" height="9" fill="#e6e6e6"/><rect x="367.92" y="268.82" width="4.6" height="9" fill="#e6e6e6"/><rect x="373.59" y="268.82" width="4.6" height="9" fill="#e6e6e6"/><rect x="379.27" y="268.82" width="4.6" height="9" fill="#e6e6e6"/><rect x="384.94" y="268.82" width="4.6" height="9" fill="#e6e6e6"/><rect x="390.61" y="268.82" width="4.6" height="9" fill="#e6e6e6"/><rect x="396.28" y="268.82" width="4.6" height="9" fill="#e6e6e6"/><rect x="401.96" y="268.82" width="4.6" height="9" fill="#e6e6e6"/><rect x="407.63" y="268.82" width="4.6" height="9" fill="#e6e6e6"/><rect x="413.3" y="268.82" width="4.6" height="9" fill="#e6e6e6"/><rect x="418.98" y="268.82" width="4.6" height="9" fill="#e6e6e6"/><rect x="424.65" y="268.82" width="4.6" height="9" fill="#e6e6e6"/><rect x="430.32" y="268.82" width="4.6" height="9" fill="#e6e6e6"/><rect x="436" y="268.82" width="4.6" height="9" fill="#e6e6e6"/><rect x="441.67" y="268.82" width="4.6" height="9" fill="#e6e6e6"/><rect x="447.34" y="268.82" width="4.6" height="9" fill="#e6e6e6"/><rect x="453.01" y="268.82" width="4.6" height="9" fill="#e6e6e6"/><rect x="141" y="279.13" width="4.6" height="9" fill="#cbcbcb"/><rect x="146.67" y="279.13" width="4.6" height="9" fill="#cbcbcb"/><rect x="152.35" y="279.13" width="4.6" height="9" fill="#cbcbcb"/><rect x="158.02" y="279.13" width="4.6" height="9" fill="#cbcbcb"/><rect x="163.69" y="279.13" width="4.6" height="9" fill="#cbcbcb"/><rect x="169.37" y="279.13" width="4.6" height="9" fill="#cbcbcb"/><rect x="175.04" y="279.13" width="4.6" height="9" fill="#cbcbcb"/><rect x="180.71" y="279.13" width="4.6" height="9" fill="#cbcbcb"/><rect x="186.38" y="279.13" width="4.6" height="9" fill="#cbcbcb"/><rect x="192.06" y="279.13" width="4.6" height="9" fill="#4899d3"/><rect x="197.73" y="279.13" width="4.6" height="9" fill="#cbcbcb"/><rect x="203.4" y="279.13" width="4.6" height="9" fill="#cbcbcb"/><rect x="209.08" y="279.13" width="4.6" height="9" fill="#cbcbcb"/><rect x="214.75" y="279.13" width="4.6" height="9" fill="#cbcbcb"/><rect x="220.42" y="279.13" width="4.6" height="9" fill="#cbcbcb"/><rect x="226.09" y="279.13" width="4.6" height="9" fill="#d2710f"/><rect x="231.77" y="279.13" width="4.6" height="9" fill="#cbcbcb"/><rect x="237.44" y="279.13" width="4.6" height="9" fill="#cbcbcb"/><rect x="243.11" y="279.13" width="4.6" height="9" fill="#cbcbcb"/><rect x="248.79" y="279.13" width="4.6" height="9" fill="#cbcbcb"/><rect x="254.46" y="279.13" width="4.6" height="9" fill="#cbcbcb"/><rect x="260.13" y="279.13" width="4.6" height="9" fill="#cbcbcb"/><rect x="265.81" y="279.13" width="4.6" height="9" fill="#cbcbcb"/><rect x="271.48" y="279.13" width="4.6" height="9" fill="#cbcbcb"/><rect x="277.15" y="279.13" width="4.6" height="9" fill="#cbcbcb"/><rect x="282.82" y="279.13" width="4.6" height="9" fill="#cbcbcb"/><rect x="288.5" y="279.13" width="4.6" height="9" fill="#cbcbcb"/><rect x="294.17" y="279.13" width="4.6" height="9" fill="#cbcbcb"/><rect x="299.84" y="279.13" width="4.6" height="9" fill="#cbcbcb"/><rect x="305.52" y="279.13" width="4.6" height="9" fill="#cbcbcb"/><rect x="311.19" y="279.13" width="4.6" height="9" fill="#cbcbcb"/><rect x="316.86" y="279.13" width="4.6" height="9" fill="#cbcbcb"/><rect x="322.54" y="279.13" width="4.6" height="9" fill="#cbcbcb"/><rect x="328.21" y="279.13" width="4.6" height="9" fill="#cbcbcb"/><rect x="333.88" y="279.13" width="4.6" height="9" fill="#cbcbcb"/><rect x="339.56" y="279.13" width="4.6" height="9" fill="#cbcbcb"/><rect x="345.23" y="279.13" width="4.6" height="9" fill="#cbcbcb"/><rect x="350.9" y="279.13" width="4.6" height="9" fill="#cbcbcb"/><rect x="356.57" y="279.13" width="4.6" height="9" fill="#cbcbcb"/><rect x="362.25" y="279.13" width="4.6" height="9" fill="#cbcbcb"/><rect x="367.92" y="279.13" width="4.6" height="9" fill="#cbcbcb"/><rect x="373.59" y="279.13" width="4.6" height="9" fill="#cbcbcb"/><rect x="379.27" y="279.13" width="4.6" height="9" fill="#cbcbcb"/><rect x="384.94" y="279.13" width="4.6" height="9" fill="#cbcbcb"/><rect x="390.61" y="279.13" width="4.6" height="9" fill="#cbcbcb"/><rect x="396.28" y="279.13" width="4.6" height="9" fill="#cbcbcb"/><rect x="401.96" y="279.13" width="4.6" height="9" fill="#cbcbcb"/><rect x="407.63" y="279.13" width="4.6" height="9" fill="#cbcbcb"/><rect x="413.3" y="279.13" width="4.6" height="9" fill="#cbcbcb"/><rect x="418.98" y="279.13" width="4.6" height="9" fill="#cbcbcb"/><rect x="424.65" y="279.13" width="4.6" height="9" fill="#cbcbcb"/><rect x="430.32" y="279.13" width="4.6" height="9" fill="#cbcbcb"/><rect x="436" y="279.13" width="4.6" height="9" fill="#cbcbcb"/><rect x="441.67" y="279.13" width="4.6" height="9" fill="#cbcbcb"/><rect x="447.34" y="279.13" width="4.6" height="9" fill="#cbcbcb"/><rect x="453.01" y="279.13" width="4.6" height="9" fill="#cbcbcb"/><rect x="141" y="289.44" width="4.6" height="9" fill="#e6e6e6"/><rect x="146.67" y="289.44" width="4.6" height="9" fill="#e6e6e6"/><rect x="152.35" y="289.44" width="4.6" height="9" fill="#e6e6e6"/><rect x="158.02" y="289.44" width="4.6" height="9" fill="#e6e6e6"/><rect x="163.69" y="289.44" width="4.6" height="9" fill="#e6e6e6"/><rect x="169.37" y="289.44" width="4.6" height="9" fill="#e6e6e6"/><rect x="175.04" y="289.44" width="4.6" height="9" fill="#4899d3"/><rect x="180.71" y="289.44" width="4.6" height="9" fill="#e6e6e6"/><rect x="186.38" y="289.44" width="4.6" height="9" fill="#e6e6e6"/><rect x="192.06" y="289.44" width="4.6" height="9" fill="#e6e6e6"/><rect x="197.73" y="289.44" width="4.6" height="9" fill="#e6e6e6"/><rect x="203.4" y="289.44" width="4.6" height="9" fill="#e6e6e6"/><rect x="209.08" y="289.44" width="4.6" height="9" fill="#e6e6e6"/><rect x="214.75" y="289.44" width="4.6" height="9" fill="#e6e6e6"/><rect x="220.42" y="289.44" width="4.6" height="9" fill="#e6e6e6"/><rect x="226.09" y="289.44" width="4.6" height="9" fill="#e6e6e6"/><rect x="231.77" y="289.44" width="4.6" height="9" fill="#e6e6e6"/><rect x="237.44" y="289.44" width="4.6" height="9" fill="#e6e6e6"/><rect x="243.11" y="289.44" width="4.6" height="9" fill="#e6e6e6"/><rect x="248.79" y="289.44" width="4.6" height="9" fill="#e6e6e6"/><rect x="254.46" y="289.44" width="4.6" height="9" fill="#e6e6e6"/><rect x="260.13" y="289.44" width="4.6" height="9" fill="#e6e6e6"/><rect x="265.81" y="289.44" width="4.6" height="9" fill="#e6e6e6"/><rect x="271.48" y="289.44" width="4.6" height="9" fill="#e6e6e6"/><rect x="277.15" y="289.44" width="4.6" height="9" fill="#e6e6e6"/><rect x="282.82" y="289.44" width="4.6" height="9" fill="#e6e6e6"/><rect x="288.5" y="289.44" width="4.6" height="9" fill="#e6e6e6"/><rect x="294.17" y="289.44" width="4.6" height="9" fill="#e6e6e6"/><rect x="299.84" y="289.44" width="4.6" height="9" fill="#e6e6e6"/><rect x="305.52" y="289.44" width="4.6" height="9" fill="#e6e6e6"/><rect x="311.19" y="289.44" width="4.6" height="9" fill="#e6e6e6"/><rect x="316.86" y="289.44" width="4.6" height="9" fill="#e6e6e6"/><rect x="322.54" y="289.44" width="4.6" height="9" fill="#e6e6e6"/><rect x="328.21" y="289.44" width="4.6" height="9" fill="#e6e6e6"/><rect x="333.88" y="289.44" width="4.6" height="9" fill="#e6e6e6"/><rect x="339.56" y="289.44" width="4.6" height="9" fill="#e6e6e6"/><rect x="345.23" y="289.44" width="4.6" height="9" fill="#e6e6e6"/><rect x="350.9" y="289.44" width="4.6" height="9" fill="#e6e6e6"/><rect x="356.57" y="289.44" width="4.6" height="9" fill="#e6e6e6"/><rect x="362.25" y="289.44" width="4.6" height="9" fill="#e6e6e6"/><rect x="367.92" y="289.44" width="4.6" height="9" fill="#e6e6e6"/><rect x="373.59" y="289.44" width="4.6" height="9" fill="#e6e6e6"/><rect x="379.27" y="289.44" width="4.6" height="9" fill="#e6e6e6"/><rect x="384.94" y="289.44" width="4.6" height="9" fill="#e6e6e6"/><rect x="390.61" y="289.44" width="4.6" height="9" fill="#e6e6e6"/><rect x="396.28" y="289.44" width="4.6" height="9" fill="#e6e6e6"/><rect x="401.96" y="289.44" width="4.6" height="9" fill="#e6e6e6"/><rect x="407.63" y="289.44" width="4.6" height="9" fill="#e6e6e6"/><rect x="413.3" y="289.44" width="4.6" height="9" fill="#e6e6e6"/><rect x="418.98" y="289.44" width="4.6" height="9" fill="#e6e6e6"/><rect x="424.65" y="289.44" width="4.6" height="9" fill="#e6e6e6"/><rect x="430.32" y="289.44" width="4.6" height="9" fill="#e6e6e6"/><rect x="436" y="289.44" width="4.6" height="9" fill="#e6e6e6"/><rect x="441.67" y="289.44" width="4.6" height="9" fill="#e6e6e6"/><rect x="447.34" y="289.44" width="4.6" height="9" fill="#e6e6e6"/><rect x="453.01" y="289.44" width="4.6" height="9" fill="#e6e6e6"/><rect x="141" y="299.75" width="4.6" height="9" fill="#2f9444"/><rect x="146.67" y="299.75" width="4.6" height="9" fill="#cbcbcb"/><rect x="152.35" y="299.75" width="4.6" height="9" fill="#cbcbcb"/><rect x="158.02" y="299.75" width="4.6" height="9" fill="#cbcbcb"/><rect x="163.69" y="299.75" width="4.6" height="9" fill="#cbcbcb"/><rect x="169.37" y="299.75" width="4.6" height="9" fill="#cbcbcb"/><rect x="175.04" y="299.75" width="4.6" height="9" fill="#cbcbcb"/><rect x="180.71" y="299.75" width="4.6" height="9" fill="#cbcbcb"/><rect x="186.38" y="299.75" width="4.6" height="9" fill="#cbcbcb"/><rect x="192.06" y="299.75" width="4.6" height="9" fill="#cbcbcb"/><rect x="197.73" y="299.75" width="4.6" height="9" fill="#cbcbcb"/><rect x="203.4" y="299.75" width="4.6" height="9" fill="#cbcbcb"/><rect x="209.08" y="299.75" width="4.6" height="9" fill="#cbcbcb"/><rect x="214.75" y="299.75" width="4.6" height="9" fill="#cbcbcb"/><rect x="220.42" y="299.75" width="4.6" height="9" fill="#cbcbcb"/><rect x="226.09" y="299.75" width="4.6" height="9" fill="#cbcbcb"/><rect x="231.77" y="299.75" width="4.6" height="9" fill="#2f9444"/><rect x="237.44" y="299.75" width="4.6" height="9" fill="#2f9444"/><rect x="243.11" y="299.75" width="4.6" height="9" fill="#cbcbcb"/><rect x="248.79" y="299.75" width="4.6" height="9" fill="#cbcbcb"/><rect x="254.46" y="299.75" width="4.6" height="9" fill="#cbcbcb"/><rect x="260.13" y="299.75" width="4.6" height="9" fill="#cbcbcb"/><rect x="265.81" y="299.75" width="4.6" height="9" fill="#cbcbcb"/><rect x="271.48" y="299.75" width="4.6" height="9" fill="#cbcbcb"/><rect x="277.15" y="299.75" width="4.6" height="9" fill="#cbcbcb"/><rect x="282.82" y="299.75" width="4.6" height="9" fill="#cbcbcb"/><rect x="288.5" y="299.75" width="4.6" height="9" fill="#cbcbcb"/><rect x="294.17" y="299.75" width="4.6" height="9" fill="#cbcbcb"/><rect x="299.84" y="299.75" width="4.6" height="9" fill="#cbcbcb"/><rect x="305.52" y="299.75" width="4.6" height="9" fill="#cbcbcb"/><rect x="311.19" y="299.75" width="4.6" height="9" fill="#cbcbcb"/><rect x="316.86" y="299.75" width="4.6" height="9" fill="#cbcbcb"/><rect x="322.54" y="299.75" width="4.6" height="9" fill="#cbcbcb"/><rect x="328.21" y="299.75" width="4.6" height="9" fill="#cbcbcb"/><rect x="333.88" y="299.75" width="4.6" height="9" fill="#cbcbcb"/><rect x="339.56" y="299.75" width="4.6" height="9" fill="#cbcbcb"/><rect x="345.23" y="299.75" width="4.6" height="9" fill="#cbcbcb"/><rect x="350.9" y="299.75" width="4.6" height="9" fill="#cbcbcb"/><rect x="356.57" y="299.75" width="4.6" height="9" fill="#cbcbcb"/><rect x="362.25" y="299.75" width="4.6" height="9" fill="#cbcbcb"/><rect x="367.92" y="299.75" width="4.6" height="9" fill="#cbcbcb"/><rect x="373.59" y="299.75" width="4.6" height="9" fill="#cbcbcb"/><rect x="379.27" y="299.75" width="4.6" height="9" fill="#cbcbcb"/><rect x="384.94" y="299.75" width="4.6" height="9" fill="#cbcbcb"/><rect x="390.61" y="299.75" width="4.6" height="9" fill="#cbcbcb"/><rect x="396.28" y="299.75" width="4.6" height="9" fill="#cbcbcb"/><rect x="401.96" y="299.75" width="4.6" height="9" fill="#2f9444"/><rect x="407.63" y="299.75" width="4.6" height="9" fill="#2f9444"/><rect x="413.3" y="299.75" width="4.6" height="9" fill="#cbcbcb"/><rect x="418.98" y="299.75" width="4.6" height="9" fill="#cbcbcb"/><rect x="424.65" y="299.75" width="4.6" height="9" fill="#cbcbcb"/><rect x="430.32" y="299.75" width="4.6" height="9" fill="#cbcbcb"/><rect x="436" y="299.75" width="4.6" height="9" fill="#2f9444"/><rect x="441.67" y="299.75" width="4.6" height="9" fill="#cbcbcb"/><rect x="447.34" y="299.75" width="4.6" height="9" fill="#cbcbcb"/><rect x="453.01" y="299.75" width="4.6" height="9" fill="#cbcbcb"/><line x1="462.8" y1="40.6" x2="462.8" y2="43.6" stroke="#555" stroke-width="0.6"/><line x1="471.88" y1="40.6" x2="471.88" y2="43.6" stroke="#555" stroke-width="0.6"/><line x1="480.96" y1="40.6" x2="480.96" y2="43.6" stroke="#555" stroke-width="0.6"/><line x1="490.04" y1="40.6" x2="490.04" y2="43.6" stroke="#555" stroke-width="0.6"/><line x1="499.12" y1="40.6" x2="499.12" y2="43.6" stroke="#555" stroke-width="0.6"/><line x1="508.2" y1="40.6" x2="508.2" y2="43.6" stroke="#555" stroke-width="0.6"/><rect x="463" y="43.8" width="42.64" height="7.7" fill="#64acdf"/><rect x="462.9" y="43.8" width="0.9" height="7.7" fill="#2c6a98"/><rect x="463" y="54.06" width="36.08" height="7.7" fill="#64acdf"/><rect x="462.9" y="54.06" width="0.9" height="7.7" fill="#2c6a98"/><rect x="463" y="64.32" width="29.52" height="7.7" fill="#64acdf"/><rect x="462.9" y="64.32" width="0.9" height="7.7" fill="#2c6a98"/><rect x="463" y="74.57" width="19.68" height="7.7" fill="#64acdf"/><rect x="462.9" y="74.57" width="0.9" height="7.7" fill="#2c6a98"/><rect x="463" y="84.83" width="16.4" height="7.7" fill="#64acdf"/><rect x="462.9" y="84.83" width="0.9" height="7.7" fill="#2c6a98"/><rect x="463" y="95.09" width="3.28" height="7.7" fill="#64acdf"/><rect x="462.9" y="95.09" width="0.9" height="7.7" fill="#2c6a98"/><rect x="463" y="105.35" width="16.4" height="7.7" fill="#64acdf"/><rect x="462.9" y="105.35" width="0.9" height="7.7" fill="#2c6a98"/><rect x="463" y="115.61" width="9.84" height="7.7" fill="#64acdf"/><rect x="462.9" y="115.61" width="0.9" height="7.7" fill="#2c6a98"/><rect x="463" y="125.86" width="6.56" height="7.7" fill="#64acdf"/><rect x="462.9" y="125.86" width="0.9" height="7.7" fill="#2c6a98"/><rect x="463" y="136.12" width="6.56" height="7.7" fill="#64acdf"/><rect x="462.9" y="136.12" width="0.9" height="7.7" fill="#2c6a98"/><rect x="463" y="146.38" width="3.28" height="7.7" fill="#64acdf"/><rect x="462.9" y="146.38" width="0.9" height="7.7" fill="#2c6a98"/><rect x="463" y="156.64" width="6.56" height="7.7" fill="#64acdf"/><rect x="462.9" y="156.64" width="0.9" height="7.7" fill="#2c6a98"/><rect x="463" y="166.9" width="3.28" height="7.7" fill="#64acdf"/><rect x="462.9" y="166.9" width="0.9" height="7.7" fill="#2c6a98"/><rect x="463" y="177.15" width="3.28" height="7.7" fill="#64acdf"/><rect x="462.9" y="177.15" width="0.9" height="7.7" fill="#2c6a98"/><rect x="463" y="187.41" width="16.4" height="7.7" fill="#64acdf"/><rect x="462.9" y="187.41" width="0.9" height="7.7" fill="#2c6a98"/><rect x="463" y="197.67" width="9.84" height="7.7" fill="#64acdf"/><rect x="462.9" y="197.67" width="0.9" height="7.7" fill="#2c6a98"/><rect x="463" y="207.93" width="9.84" height="7.7" fill="#64acdf"/><rect x="462.9" y="207.93" width="0.9" height="7.7" fill="#2c6a98"/><rect x="463" y="218.19" width="3.28" height="7.7" fill="#64acdf"/><rect x="462.9" y="218.19" width="0.9" height="7.7" fill="#2c6a98"/><rect x="463" y="228.44" width="3.28" height="7.7" fill="#64acdf"/><rect x="462.9" y="228.44" width="0.9" height="7.7" fill="#2c6a98"/><rect x="463" y="238.7" width="3.28" height="7.7" fill="#64acdf"/><rect x="462.9" y="238.7" width="0.9" height="7.7" fill="#2c6a98"/><rect x="463" y="248.96" width="9.84" height="7.7" fill="#64acdf"/><rect x="462.9" y="248.96" width="0.9" height="7.7" fill="#2c6a98"/><rect x="463" y="259.22" width="3.28" height="7.7" fill="#64acdf"/><rect x="462.9" y="259.22" width="0.9" height="7.7" fill="#2c6a98"/><rect x="463" y="269.48" width="3.28" height="7.7" fill="#64acdf"/><rect x="462.9" y="269.48" width="0.9" height="7.7" fill="#2c6a98"/><rect x="463" y="279.73" width="6.56" height="7.7" fill="#64acdf"/><rect x="462.9" y="279.73" width="0.9" height="7.7" fill="#2c6a98"/><rect x="463" y="289.99" width="3.28" height="7.7" fill="#64acdf"/><rect x="462.9" y="289.99" width="0.9" height="7.7" fill="#2c6a98"/><rect x="463" y="300.25" width="19.68" height="7.7" fill="#64acdf"/><rect x="462.9" y="300.25" width="0.9" height="7.7" fill="#2c6a98"/><line x1="462.2" y1="43.6" x2="510.8" y2="43.6" stroke="#222" stroke-width="0.9"/><line x1="462.4" y1="42.8" x2="462.4" y2="311.4" stroke="#5a5654" stroke-width="1.1"/><rect x="153.5" y="320.5" width="4.3" height="4.1" fill="#c5e2ee"/><rect x="153.5" y="329.58" width="4.3" height="4.1" fill="#1a7cc0"/><rect x="153.5" y="338.66" width="4.3" height="4.1" fill="#1c3b8c"/><rect x="153.5" y="347.74" width="4.3" height="4.1" fill="#8dbb35"/><rect x="153.5" y="356.82" width="4.3" height="4.1" fill="#3a9f40"/><rect x="153.5" y="365.9" width="4.3" height="4.1" fill="#1d7a35"/><rect x="225.6" y="320.5" width="4.1" height="4.1" fill="#6f3d96"/><rect x="225.6" y="329.58" width="4.1" height="4.1" fill="#efb11c"/><rect x="225.6" y="338.66" width="4.1" height="4.1" fill="#de7420"/><rect x="225.6" y="347.74" width="4.1" height="4.1" fill="#3e8fd0"/><rect x="225.6" y="356.82" width="4.1" height="4.1" fill="#cc2a27"/><rect x="225.6" y="365.9" width="4.1" height="4.1" fill="#e0654a"/><rect x="314.3" y="320.5" width="4.3" height="4.1" fill="#6fb03c"/><rect x="314.3" y="338.66" width="4.3" height="4.1" fill="#1b7f36"/></g><g font-family="'Liberation Sans', sans-serif" fill="#231f20" stroke="#231f20" stroke-width="0.3"><text x="121" y="49.5" font-size="8.2" text-anchor="start" textLength="15.2" lengthAdjust="spacingAndGlyphs">FLT3</text><text x="117.5" y="59.4" font-size="8.2" text-anchor="start" textLength="18.9" lengthAdjust="spacingAndGlyphs">NRAS</text><text x="118.5" y="69.5" font-size="8.2" text-anchor="start" textLength="17.9" lengthAdjust="spacingAndGlyphs">KRAS</text><text x="109.9" y="79.7" font-size="8.2" text-anchor="start" textLength="26" lengthAdjust="spacingAndGlyphs">PTPN11</text><text x="123.3" y="89.8" font-size="8.2" text-anchor="start" textLength="13.1" lengthAdjust="spacingAndGlyphs">CBL</text><text x="119" y="99.5" font-size="8.2" text-anchor="start" textLength="17.4" lengthAdjust="spacingAndGlyphs">BRAF</text><text x="114.3" y="111.8" font-size="8.2" text-anchor="start" textLength="21.7" lengthAdjust="spacingAndGlyphs">SETD2</text><text x="114.5" y="121.7" font-size="8.2" text-anchor="start" textLength="21.1" lengthAdjust="spacingAndGlyphs">ASXL1</text><text x="114.6" y="131.9" font-size="8.2" text-anchor="start" textLength="21.6" lengthAdjust="spacingAndGlyphs">ASXL2</text><text x="117.3" y="141.9" font-size="8.2" text-anchor="start" textLength="18.9" lengthAdjust="spacingAndGlyphs">BCOR</text><text x="109.2" y="151.4" font-size="8.2" text-anchor="start" textLength="26.5" lengthAdjust="spacingAndGlyphs">BCORL1</text><text x="110.8" y="161.9" font-size="8.2" text-anchor="start" textLength="25.4" lengthAdjust="spacingAndGlyphs">KDM6A</text><text x="110.2" y="172.4" font-size="8.2" text-anchor="start" textLength="25.5" lengthAdjust="spacingAndGlyphs">CREBBP</text><text x="115.8" y="181.8" font-size="8.2" text-anchor="start" textLength="20.4" lengthAdjust="spacingAndGlyphs">EP300</text><text x="113" y="192.9" font-size="8.2" text-anchor="start" textLength="24.1" lengthAdjust="spacingAndGlyphs">CCND3</text><text x="122" y="204" font-size="8.2" text-anchor="start" textLength="13.25" lengthAdjust="spacingAndGlyphs">SPI1</text><text x="121" y="213.8" font-size="8.2" text-anchor="start" textLength="14.25" lengthAdjust="spacingAndGlyphs">WT1</text><text x="108.7" y="224.2" font-size="8.2" text-anchor="start" textLength="27.5" lengthAdjust="spacingAndGlyphs">MECOM</text><text x="113.9" y="234.4" font-size="8.2" text-anchor="start" textLength="21.8" lengthAdjust="spacingAndGlyphs">GATA2</text><text x="112.5" y="243.8" font-size="8.2" text-anchor="start" textLength="22.75" lengthAdjust="spacingAndGlyphs">RUNX1</text><text x="114.9" y="255.8" font-size="8.2" text-anchor="start" textLength="21.8" lengthAdjust="spacingAndGlyphs">STAG2</text><text x="113.9" y="265.3" font-size="8.2" text-anchor="start" textLength="22.3" lengthAdjust="spacingAndGlyphs">RAD21</text><text x="117.3" y="275.25" font-size="8.2" text-anchor="start" textLength="19.4" lengthAdjust="spacingAndGlyphs">SMC3</text><text x="114.8" y="285.9" font-size="8.2" text-anchor="start" textLength="22" lengthAdjust="spacingAndGlyphs">U2AF1</text><text x="121.1" y="295.9" font-size="8.2" text-anchor="start" textLength="15.7" lengthAdjust="spacingAndGlyphs">TET2</text><text x="107.7" y="305.5" font-size="8.2" text-anchor="start" textLength="29.1" lengthAdjust="spacingAndGlyphs">trisomy8</text><text x="113.2" y="38.5" font-size="8.2" text-anchor="start" textLength="23.8" lengthAdjust="spacingAndGlyphs">Disease</text><text x="37.2" y="70" font-size="8.3" text-anchor="start" textLength="32.6" lengthAdjust="spacingAndGlyphs">Activated</text><text x="37.8" y="79.6" font-size="8.3" text-anchor="start" textLength="30.8" lengthAdjust="spacingAndGlyphs">signaling</text><text x="35.4" y="141.7" font-size="8.3" text-anchor="start" textLength="36.4" lengthAdjust="spacingAndGlyphs">Epigenetic</text><text x="37.9" y="151.5" font-size="8.3" text-anchor="start" textLength="31.3" lengthAdjust="spacingAndGlyphs">regulator</text><text x="37.7" y="193.9" font-size="8.3" text-anchor="start" textLength="32" lengthAdjust="spacingAndGlyphs">Cell cycle</text><text x="31" y="220" font-size="8.3" text-anchor="start" textLength="44.8" lengthAdjust="spacingAndGlyphs">Transcription</text><text x="43.5" y="229.2" font-size="8.3" text-anchor="start" textLength="20.1" lengthAdjust="spacingAndGlyphs">factor</text><text x="39.8" y="265.5" font-size="8.3" text-anchor="start" textLength="27.7" lengthAdjust="spacingAndGlyphs">Cohesin</text><text x="28.7" y="286" font-size="8.3" text-anchor="start" textLength="49.6" lengthAdjust="spacingAndGlyphs">Splicing factor</text><text x="23.8" y="296.4" font-size="8.3" text-anchor="start" textLength="59.2" lengthAdjust="spacingAndGlyphs">DNA methylation</text><text x="16.6" y="305.8" font-size="8.3" text-anchor="start" textLength="74.4" lengthAdjust="spacingAndGlyphs">Copy number change</text><text transform="translate(459.8,37.6) rotate(90)" font-size="8.2" text-anchor="end" textLength="4.06" lengthAdjust="spacingAndGlyphs" stroke-width="0.1">0</text><text transform="translate(468.88,37.6) rotate(90)" font-size="8.2" text-anchor="end" textLength="14.2" lengthAdjust="spacingAndGlyphs" stroke-width="0.1">0.05</text><text transform="translate(477.96,37.6) rotate(90)" font-size="8.2" text-anchor="end" textLength="10.14" lengthAdjust="spacingAndGlyphs" stroke-width="0.1">0.1</text><text transform="translate(487.04,37.6) rotate(90)" font-size="8.2" text-anchor="end" textLength="14.2" lengthAdjust="spacingAndGlyphs" stroke-width="0.1">0.15</text><text transform="translate(496.12,37.6) rotate(90)" font-size="8.2" text-anchor="end" textLength="10.14" lengthAdjust="spacingAndGlyphs" stroke-width="0.1">0.2</text><text transform="translate(505.2,37.6) rotate(90)" font-size="8.2" text-anchor="end" textLength="14.2" lengthAdjust="spacingAndGlyphs" stroke-width="0.1">0.25</text><text x="465.6" y="14.8" font-size="9.4" text-anchor="start" textLength="43.2" lengthAdjust="spacingAndGlyphs">Frequency</text><text x="162.9" y="324.9" font-size="7.9" text-anchor="start" textLength="37.3" lengthAdjust="spacingAndGlyphs" stroke-width="0.32">MLL–MLLT3</text><text x="162.9" y="333.98" font-size="7.9" text-anchor="start" textLength="41.3" lengthAdjust="spacingAndGlyphs" stroke-width="0.32">MLL–MLLT10</text><text x="162.9" y="343.06" font-size="7.9" text-anchor="start" textLength="28.1" lengthAdjust="spacingAndGlyphs" stroke-width="0.32">MLL–ELL</text><text x="162.9" y="352.14" font-size="7.9" text-anchor="start" textLength="36.7" lengthAdjust="spacingAndGlyphs" stroke-width="0.32">MLL–MLLT1</text><text x="162.9" y="361.22" font-size="7.9" text-anchor="start" textLength="37.3" lengthAdjust="spacingAndGlyphs" stroke-width="0.32">MLL–MLLT4</text><text x="161.5" y="370.3" font-size="7.9" text-anchor="start" textLength="21.4" lengthAdjust="spacingAndGlyphs" stroke-width="0.32">Others</text><text x="232.5" y="324.9" font-size="7.9" text-anchor="start" textLength="61.4" lengthAdjust="spacingAndGlyphs" stroke-width="0.32">Multiple mutations</text><text x="233" y="333.98" font-size="7.9" text-anchor="start" textLength="52.2" lengthAdjust="spacingAndGlyphs" stroke-width="0.32">Frameshift indel</text><text x="232.5" y="343.06" font-size="7.9" text-anchor="start" textLength="42.4" lengthAdjust="spacingAndGlyphs" stroke-width="0.32">Inframe indel</text><text x="235.5" y="352.14" font-size="7.9" text-anchor="start" textLength="44.2" lengthAdjust="spacingAndGlyphs" stroke-width="0.32">Missense SNV</text><text x="235.5" y="361.22" font-size="7.9" text-anchor="start" textLength="46.5" lengthAdjust="spacingAndGlyphs" stroke-width="0.32">Nonsense SNV</text><text x="234" y="370.3" font-size="7.9" text-anchor="start" textLength="63.3" lengthAdjust="spacingAndGlyphs" stroke-width="0.32">Splice site mutation</text><text x="322.5" y="324.9" font-size="7.9" text-anchor="start" textLength="8.4" lengthAdjust="spacingAndGlyphs" stroke-width="0.32">SV</text><text x="322" y="343.06" font-size="7.9" text-anchor="start" textLength="15" lengthAdjust="spacingAndGlyphs" stroke-width="0.32">Gain</text></g><rect x="0" y="0" width="520" height="1.1" fill="#000"/><rect x="0" y="0" width="1.2" height="380" fill="#000"/><rect x="518.3" y="0" width="1.7" height="380" fill="#111"/><rect x="0" y="377.9" width="520" height="2.1" fill="#111"/></svg></body></html>
